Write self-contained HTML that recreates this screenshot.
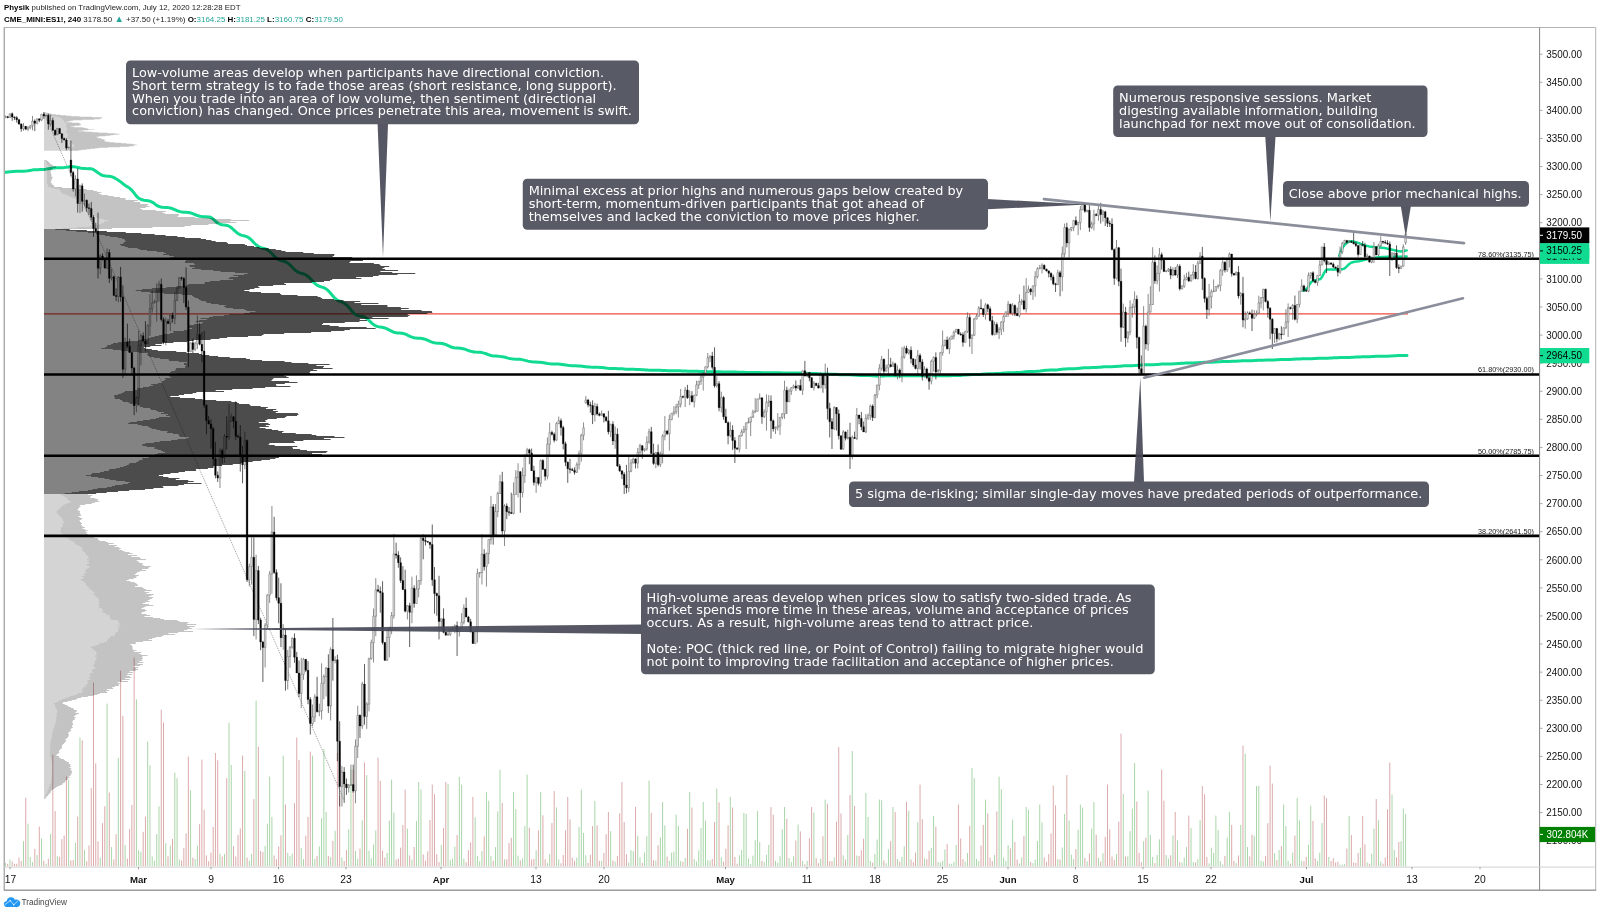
<!DOCTYPE html><html><head><meta charset="utf-8"><title>ES1! chart</title>
<style>html,body{margin:0;padding:0;background:#fff}svg{display:block;will-change:transform}.ax{font-family:"Liberation Sans",sans-serif;font-size:10.3px;fill:#111}.hd{font-family:"Liberation Sans",sans-serif;font-size:8.05px;fill:#222}.cb{font-family:"DejaVu Sans","Liberation Sans",sans-serif;font-size:12.8px;fill:#fff}.fib{font-family:"Liberation Sans",sans-serif;font-size:7.4px;fill:#222}</style></head><body>
<svg width="1600" height="914" viewBox="0 0 1600 914">
<rect width="1600" height="914" fill="#fff"/>
<text class="hd" x="4" y="10.0" textLength="236.5" lengthAdjust="spacingAndGlyphs"><tspan font-weight="bold" fill="#000">Physik</tspan> published on TradingView.com, July 12, 2020 12:28:28 EDT</text>
<text class="hd" x="4" y="21.5" textLength="339" lengthAdjust="spacingAndGlyphs"><tspan font-weight="bold" fill="#000">CME_MINI:ES1!, 240</tspan> 3178.50 <tspan fill="#26a69a" font-size="9.5" style="font-size:9.5px">▲</tspan> +37.50 (+1.19%) <tspan font-weight="bold" fill="#000">O:</tspan><tspan fill="#26a69a">3164.25</tspan> <tspan font-weight="bold" fill="#000">H:</tspan><tspan fill="#26a69a">3181.25</tspan> <tspan font-weight="bold" fill="#000">L:</tspan><tspan fill="#26a69a">3160.75</tspan> <tspan font-weight="bold" fill="#000">C:</tspan><tspan fill="#26a69a">3179.50</tspan></text>
<defs><clipPath id="pane"><rect x="4.7" y="28" width="1535" height="838.6"/></clipPath></defs>
<g clip-path="url(#pane)">
<path d="M7.69 866.6V863.94M12.2 866.6V861.59M14.46 866.6V863.8M16.72 866.6V863.75M18.98 866.6V857.63M21.24 866.6V860.92M25.75 866.6V797.6M34.79 866.6V848.74M39.3 866.6V826.6M43.82 866.6V860.64M48.34 866.6V858.74M52.85 866.6V754.6M55.11 866.6V811.01M59.63 866.6V856.69M61.89 866.6V839.13M64.15 866.6V835.65M66.4 866.6V776.6M70.92 866.6V860.38M73.18 866.6V860.12M77.7 866.6V816.55M82.21 866.6V740.29M86.73 866.6V861.27M88.99 866.6V845.53M91.25 866.6V787.93M93.5 866.6V682.6M95.76 866.6V763.39M98.02 866.6V841.34M102.54 866.6V823.17M104.8 866.6V806.19M109.31 866.6V792.57M113.83 866.6V859.45M116.09 866.6V834.29M120.6 866.6V670.6M122.86 866.6V715.71M127.38 866.6V858.68M129.64 866.6V828.94M131.89 866.6V804.93M134.15 866.6V657.6M143.19 866.6V831.81M145.44 866.6V816.68M161.25 866.6V709.6M163.51 866.6V722.49M168.03 866.6V856.33M172.54 866.6V838.98M181.58 866.6V860.37M183.84 866.6V848.2M186.09 866.6V833.3M188.35 866.6V756.6M192.87 866.6V857.61M199.64 866.6V824.18M201.9 866.6V759.6M204.16 866.6V809.77M206.42 866.6V855.39M208.68 866.6V861.26M210.94 866.6V852.65M213.19 866.6V826.99M215.45 866.6V753M217.71 866.6V760.34M222.23 866.6V856.56M226.74 866.6V778.3M233.52 866.6V846.16M235.78 866.6V856.46M238.03 866.6V834.89M240.29 866.6V828.34M242.55 866.6V755.6M247.07 866.6V857.64M253.84 866.6V799.14M258.36 866.6V746.52M260.62 866.6V850.99M262.88 866.6V851.93M274.17 866.6V855.52M276.43 866.6V859.18M278.68 866.6V846.46M280.94 866.6V835.31M285.46 866.6V804.45M294.49 866.6V803.27M296.75 866.6V737.6M299.01 866.6V759.84M305.78 866.6V835.68M308.04 866.6V816.9M310.3 866.6V751.6M317.08 866.6V856.12M328.37 866.6V856.07M332.88 866.6V840.89M337.4 866.6V753M339.66 866.6V796.27M344.18 866.6V860.97M346.43 866.6V850.11M353.21 866.6V769.79M359.98 866.6V848.48M364.5 866.6V762.6M378.05 866.6V757.6M380.31 866.6V780.75M382.57 866.6V850.56M384.82 866.6V857.6M396.12 866.6V859.5M398.37 866.6V858.55M400.63 866.6V847.67M402.89 866.6V825.11M405.15 866.6V789.6M409.67 866.6V855.39M414.18 866.6V846.98M423.22 866.6V854.5M425.47 866.6V860.55M427.73 866.6V851.4M429.99 866.6V819.96M432.25 866.6V784.6M434.51 866.6V794.18M436.77 866.6V854.33M439.02 866.6V862.07M443.54 866.6V827.82M445.8 866.6V782M457.09 866.6V834.95M466.12 866.6V862.16M468.38 866.6V850.18M470.64 866.6V842.42M472.9 866.6V797M484.19 866.6V836.32M493.22 866.6V860.88M502.26 866.6V802.94M506.77 866.6V859.32M509.03 866.6V842.95M511.29 866.6V837.79M520.32 866.6V860.42M529.36 866.6V827.75M531.61 866.6V859.55M533.87 866.6V858.87M538.39 866.6V830.35M542.91 866.6V815.35M545.16 866.6V859.27M551.94 866.6V823.05M554.2 866.6V791M560.97 866.6V863.32M563.23 866.6V855.01M565.49 866.6V830.26M567.75 866.6V797M570 866.6V819.43M572.26 866.6V857.59M574.52 866.6V860.77M588.07 866.6V862.84M590.33 866.6V854.79M592.59 866.6V826.02M597.1 866.6V825.28M599.36 866.6V860.86M603.88 866.6V852.98M606.14 866.6V834.13M608.4 866.6V812M612.91 866.6V860.38M617.43 866.6V856.17M619.69 866.6V813.29M621.95 866.6V782M624.2 866.6V822.09M626.46 866.6V854.27M635.5 866.6V807M642.27 866.6V862.79M651.3 866.6V812.95M653.56 866.6V860.09M658.08 866.6V845.28M667.11 866.6V856.58M682.92 866.6V861.81M687.44 866.6V828.77M691.95 866.6V807.54M712.28 866.6V858.91M714.54 866.6V821.95M719.05 866.6V802.44M723.57 866.6V861.64M725.83 866.6V848.65M728.09 866.6V825.29M732.6 866.6V807.45M734.86 866.6V857M737.12 866.6V863.78M761.96 866.6V860.84M770.99 866.6V807M773.25 866.6V814.75M786.8 866.6V818.81M795.84 866.6V840.53M800.35 866.6V831.39M804.87 866.6V864.33M809.38 866.6V838.3M811.64 866.6V807M816.16 866.6V858.13M818.42 866.6V863.15M822.93 866.6V836.28M827.45 866.6V803.69M829.71 866.6V861.14M831.97 866.6V861.25M836.48 866.6V821.65M838.74 866.6V747M841 866.6V813.43M845.52 866.6V859.43M850.03 866.6V794.9M854.55 866.6V805.93M859.07 866.6V856.04M861.33 866.6V850.23M863.58 866.6V838.69M872.62 866.6V862.69M883.91 866.6V860.46M890.68 866.6V841.1M895.2 866.6V812.08M899.72 866.6V861.71M906.49 866.6V802M911.01 866.6V859.42M913.27 866.6V862.09M915.52 866.6V852.56M920.04 866.6V784.6M922.3 866.6V819.23M926.82 866.6V859.23M929.07 866.6V850.64M935.85 866.6V826.59M947.14 866.6V844.03M958.43 866.6V804.6M960.69 866.6V838.43M962.95 866.6V859.24M969.72 866.6V825.81M981.02 866.6V845.58M983.27 866.6V824.91M987.79 866.6V813.48M990.05 866.6V857.73M992.31 866.6V861.11M996.82 866.6V811.51M1010.37 866.6V848.27M1014.89 866.6V841.97M1017.15 866.6V859.57M1023.92 866.6V836.19M1030.7 866.6V861.9M1044.25 866.6V857.44M1046.51 866.6V861.89M1048.76 866.6V854.05M1051.02 866.6V833.37M1053.28 866.6V785.6M1055.54 866.6V805.3M1060.06 866.6V859.65M1066.83 866.6V775M1075.86 866.6V849.19M1084.9 866.6V858.09M1089.41 866.6V853.34M1096.19 866.6V834.86M1100.71 866.6V861.57M1105.22 866.6V836.92M1107.48 866.6V784.6M1109.74 866.6V829.46M1112 866.6V856.44M1114.26 866.6V859.66M1118.77 866.6V821.56M1121.03 866.6V733.6M1125.55 866.6V856.62M1136.84 866.6V801.51M1139.1 866.6V852.81M1141.35 866.6V862.19M1145.87 866.6V837.66M1154.9 866.6V863.08M1161.68 866.6V769.6M1163.94 866.6V800.65M1170.71 866.6V855.32M1175.23 866.6V812M1179.75 866.6V861.82M1188.78 866.6V815.6M1195.55 866.6V862.37M1202.33 866.6V786M1204.59 866.6V794.24M1206.85 866.6V857.12M1224.91 866.6V855.85M1231.69 866.6V824.92M1233.95 866.6V860.9M1238.46 866.6V855.45M1242.98 866.6V745.6M1249.75 866.6V856.49M1252.01 866.6V834.68M1265.56 866.6V856.01M1267.82 866.6V823.25M1270.08 866.6V765.6M1272.34 866.6V783.57M1276.85 866.6V860.14M1281.37 866.6V846.15M1290.4 866.6V863.54M1294.92 866.6V835.55M1303.95 866.6V861.26M1306.21 866.6V856.89M1312.99 866.6V820.93M1315.24 866.6V858.47M1324.28 866.6V795.6M1326.54 866.6V798.12M1331.05 866.6V861.01M1333.31 866.6V858.08M1335.57 866.6V862.57M1337.83 866.6V861.56M1346.86 866.6V848.5M1351.38 866.6V834.94M1353.64 866.6V862.47M1355.89 866.6V862.86M1358.15 866.6V853.01M1362.67 866.6V816M1364.93 866.6V844.38M1369.44 866.6V863.65M1376.22 866.6V799M1382.99 866.6V863.59M1385.25 866.6V857.5M1387.51 866.6V809.31M1389.77 866.6V762.6M1396.54 866.6V857.29M1398.8 866.6V841.94" stroke="#dcaaaa" stroke-width="1" fill="none"/>
<path d="M5.43 866.6V863.04M9.95 866.6V859.5M23.5 866.6V841.22M28.01 866.6V823.73M30.27 866.6V857.08M32.53 866.6V862.02M37.05 866.6V854.86M41.56 866.6V838.47M46.08 866.6V863.72M50.6 866.6V833.92M57.37 866.6V856.29M68.66 866.6V779.55M75.44 866.6V842.77M79.95 866.6V737.6M84.47 866.6V849.96M100.28 866.6V857.67M107.05 866.6V703.6M111.57 866.6V847.09M118.34 866.6V757.86M125.12 866.6V844.98M136.41 866.6V699.28M138.67 866.6V850.16M140.93 866.6V851.79M147.7 866.6V741.6M149.96 866.6V765.3M152.22 866.6V856.38M154.48 866.6V860.6M156.74 866.6V834.02M158.99 866.6V806.44M165.77 866.6V843.07M170.29 866.6V845.59M174.8 866.6V772.6M177.06 866.6V778.25M179.32 866.6V859.34M190.61 866.6V790.35M195.13 866.6V859.07M197.39 866.6V845.58M219.97 866.6V853.63M224.49 866.6V853.83M229 866.6V722.6M231.26 866.6V765M244.81 866.6V770.86M249.33 866.6V860.68M251.58 866.6V853.84M256.1 866.6V700.6M265.13 866.6V846.1M267.39 866.6V823.76M269.65 866.6V776.6M271.91 866.6V816.84M283.2 866.6V755.6M287.72 866.6V852.89M289.98 866.6V856.22M292.23 866.6V853.66M301.27 866.6V848M303.53 866.6V859.16M312.56 866.6V755.62M314.82 866.6V858.89M319.33 866.6V846.37M321.59 866.6V818.2M323.85 866.6V749M326.11 866.6V811.88M330.63 866.6V857.24M335.14 866.6V830.77M341.92 866.6V857.57M348.69 866.6V829.45M350.95 866.6V769.6M355.47 866.6V850.91M357.72 866.6V858.57M362.24 866.6V820.27M366.76 866.6V775.07M369.02 866.6V850.67M371.27 866.6V858.22M373.53 866.6V844.57M375.79 866.6V830.27M387.08 866.6V853M389.34 866.6V820.64M391.6 866.6V779.6M393.86 866.6V812.48M407.41 866.6V828.6M411.92 866.6V859.59M416.44 866.6V821.03M418.7 866.6V782M420.96 866.6V789.45M441.28 866.6V844.97M448.06 866.6V783.69M450.32 866.6V860.08M452.57 866.6V858.75M454.83 866.6V846.63M459.35 866.6V777M461.61 866.6V784.57M463.86 866.6V858.69M475.16 866.6V817.32M477.41 866.6V855.94M479.67 866.6V861.25M481.93 866.6V851.03M486.45 866.6V792M488.71 866.6V800.74M490.96 866.6V855.99M495.48 866.6V847.15M497.74 866.6V811.41M500 866.6V769.6M504.51 866.6V859.39M513.55 866.6V792M515.81 866.6V809.2M518.06 866.6V855.69M522.58 866.6V858.34M524.84 866.6V825.9M527.1 866.6V774.6M536.13 866.6V850.32M540.65 866.6V792M547.42 866.6V862.84M549.68 866.6V854.17M556.46 866.6V807.32M558.71 866.6V859.49M576.78 866.6V857.6M579.04 866.6V826.92M581.3 866.6V789.6M583.55 866.6V832.92M585.81 866.6V855.43M594.85 866.6V801M601.62 866.6V860.81M610.65 866.6V831.16M615.17 866.6V861.58M628.72 866.6V862.57M630.98 866.6V850.16M633.24 866.6V851.19M637.75 866.6V835.74M640.01 866.6V857.26M644.53 866.6V852.33M646.79 866.6V836.26M649.05 866.6V780.6M655.82 866.6V860.63M660.34 866.6V837.42M662.6 866.6V802M664.85 866.6V825.35M669.37 866.6V860.88M671.63 866.6V852.61M673.89 866.6V851.67M676.15 866.6V814.6M678.4 866.6V825.68M680.66 866.6V860.95M685.18 866.6V857.87M689.69 866.6V792M694.21 866.6V858.98M696.47 866.6V861.55M698.73 866.6V850.32M700.99 866.6V827.87M703.24 866.6V802M705.5 866.6V820.65M707.76 866.6V860.08M710.02 866.6V860.58M716.79 866.6V788.6M721.31 866.6V857.28M730.34 866.6V797M739.38 866.6V855.32M741.64 866.6V849.98M743.89 866.6V813M746.15 866.6V813.84M748.41 866.6V858.48M750.67 866.6V864.1M752.93 866.6V855.67M755.19 866.6V840.17M757.44 866.6V811M759.7 866.6V842.11M764.22 866.6V862.13M766.48 866.6V854.78M768.74 866.6V844.9M775.51 866.6V861M777.77 866.6V862.49M780.03 866.6V856.03M782.29 866.6V829.27M784.54 866.6V807M789.06 866.6V858.06M791.32 866.6V862.05M793.58 866.6V856.42M798.09 866.6V824.6M802.61 866.6V861.04M807.13 866.6V860.89M813.9 866.6V812.48M820.68 866.6V858.71M825.19 866.6V799.6M834.23 866.6V857.4M843.26 866.6V855.29M847.78 866.6V834.94M852.29 866.6V751M856.81 866.6V855.54M865.84 866.6V793M868.1 866.6V816.88M870.36 866.6V860.98M874.88 866.6V853.86M877.13 866.6V839.57M879.39 866.6V799.6M881.65 866.6V800.23M886.17 866.6V863.26M888.43 866.6V849.49M892.94 866.6V807M897.46 866.6V859.02M901.98 866.6V857.04M904.23 866.6V846.21M908.75 866.6V810.61M917.78 866.6V822.2M924.56 866.6V858.33M931.33 866.6V848.03M933.59 866.6V816M938.11 866.6V862M940.37 866.6V862.47M942.62 866.6V860.7M944.88 866.6V849.52M949.4 866.6V863.6M951.66 866.6V863.87M953.92 866.6V862.03M956.17 866.6V844.9M965.21 866.6V861.6M967.47 866.6V853.05M971.98 866.6V768M974.24 866.6V778.14M976.5 866.6V859.04M978.76 866.6V861.11M985.53 866.6V799.6M994.57 866.6V855M999.08 866.6V776.6M1001.34 866.6V789.38M1003.6 866.6V857.71M1005.86 866.6V861.16M1008.12 866.6V845.1M1012.63 866.6V819.6M1019.41 866.6V863.39M1021.67 866.6V857.51M1026.18 866.6V807M1028.44 866.6V809.78M1032.96 866.6V863.17M1035.21 866.6V859.42M1037.47 866.6V840.94M1039.73 866.6V804.6M1041.99 866.6V822.35M1057.8 866.6V859.12M1062.31 866.6V847.47M1064.57 866.6V814.05M1069.09 866.6V820.51M1071.35 866.6V854.65M1073.61 866.6V859.21M1078.12 866.6V829.63M1080.38 866.6V804.6M1082.64 866.6V807.59M1087.16 866.6V861.36M1091.67 866.6V828.56M1093.93 866.6V802M1098.45 866.6V857.97M1102.96 866.6V853.16M1116.51 866.6V854M1123.29 866.6V793.87M1127.81 866.6V856.44M1130.06 866.6V831.23M1132.32 866.6V808.57M1134.58 866.6V763M1143.61 866.6V841.3M1148.13 866.6V790.6M1150.39 866.6V835.09M1152.65 866.6V856.99M1157.16 866.6V854.9M1159.42 866.6V839.37M1166.2 866.6V855.03M1168.45 866.6V858.48M1172.97 866.6V835.5M1177.49 866.6V840.46M1182 866.6V862.57M1184.26 866.6V857.62M1186.52 866.6V847.07M1191.04 866.6V828.17M1193.3 866.6V862.17M1197.81 866.6V859.28M1200.07 866.6V820.33M1209.1 866.6V863.36M1211.36 866.6V847.7M1213.62 866.6V852.87M1215.88 866.6V815.6M1218.14 866.6V830.12M1220.4 866.6V861.16M1222.65 866.6V864.46M1227.17 866.6V837.61M1229.43 866.6V812M1236.2 866.6V862.93M1240.72 866.6V825.03M1245.24 866.6V753.7M1247.5 866.6V847.05M1254.27 866.6V835.78M1256.53 866.6V786M1258.79 866.6V785.66M1261.04 866.6V860.73M1263.3 866.6V861.34M1274.59 866.6V853.07M1279.11 866.6V849.97M1283.63 866.6V804.6M1285.89 866.6V826.04M1288.14 866.6V860.83M1292.66 866.6V852.48M1297.18 866.6V798M1299.44 866.6V820.25M1301.69 866.6V860.77M1308.47 866.6V844.74M1310.73 866.6V805.6M1317.5 866.6V860.93M1319.76 866.6V852.59M1322.02 866.6V822.93M1328.79 866.6V856.99M1340.09 866.6V864.6M1342.34 866.6V864.6M1344.6 866.6V864.07M1349.12 866.6V816M1360.41 866.6V847.7M1367.18 866.6V862.41M1371.7 866.6V853.76M1373.96 866.6V828.68M1378.48 866.6V820.26M1380.73 866.6V861.48M1392.03 866.6V794.29M1394.28 866.6V849.85M1401.06 866.6V841.22M1403.32 866.6V808.6M1405.58 866.6V814.07" stroke="#a9d6a9" stroke-width="1" fill="none"/>
<line x1="44" y1="113" x2="344" y2="800" stroke="#555" stroke-width="0.6" stroke-dasharray="1 1"/>
<line x1="44" y1="313.9" x2="1408" y2="313.9" stroke="#ee4a3c" stroke-width="1.1"/>
<polyline points="4,172.27 6,172.23 8,172.05 10,171.83 12,171.62 14,171.46 16,171.35 18,171.3 20,171.28 22,171.25 24,171.17 26,171.08 28,170.8 30,170.44 32,170.11 34,169.86 36,169.71 38,169.65 40,169.61 42,169.54 44,169.39 46,169.13 48,168.8 50,168.44 52,168.14 54,167.94 56,167.84 58,167.79 60,167.76 62,167.68 64,167.52 66,167.28 68,166.97 70,166.73 72,166.65 74,166.76 76,167.11 78,167.53 80,167.94 82,168.28 84,168.5 86,168.6 88,168.63 90,168.61 92,168.98 94,169.91 96,171.22 98,172.72 100,174.14 102,175.23 104,175.85 106,176.05 108,176.14 110,176.35 112,176.83 114,177.65 116,178.74 118,179.93 120,181.37 122,182.91 124,184.61 126,185.92 128,187.12 130,188.56 132,190.46 134,192.87 136,195.65 138,197.67 140,198.91 142,199.83 144,200.31 146,200.5 148,200.69 150,201.13 152,202.01 154,203.31 156,204.87 158,206.14 160,206.72 162,207.17 164,207.38 166,207.48 168,207.61 170,207.92 172,208.49 174,209.28 176,210.17 178,211.01 180,211.65 182,212.04 184,212.2 186,212.28 188,212.43 190,212.78 192,213.38 194,214.16 196,215 198,215.75 200,216.29 202,216.59 204,216.72 206,216.8 208,217 210,217.07 212,218.14 214,219.89 216,221.69 218,223.22 220,224.25 222,224.78 224,225 226,225.22 228,225.75 230,226.79 232,228.31 234,230.11 236,231.87 238,233.53 240,234.68 242,235.37 244,235.81 246,236.34 248,237.25 250,238.68 252,240.6 254,242.73 256,244.72 258,246.3 260,247.36 262,247.99 264,248.47 266,249.12 268,250.2 270,251.81 272,253.81 274,255.93 276,257.84 278,259.28 280,260.2 282,260.75 284,261.23 286,261.97 288,263.18 290,264.9 292,266.95 294,269.04 296,270.83 298,272.13 300,272.94 302,273.44 304,274.03 306,274.97 308,276.42 310,278.35 312,280.55 314,282.68 316,284.46 318,285.72 320,286.52 322,287.09 324,287.76 326,288.83 328,290.41 330,292.58 332,295 334,297.27 336,299.13 338,300.46 340,301.38 342,302.15 344,303.11 346,304.52 348,306.44 350,308.76 352,311.17 354,313.36 356,314.84 358,315.58 360,315.95 362,316.27 364,316.85 366,317.92 368,319.49 370,321.39 372,323.3 374,324.91 376,326.02 378,326.64 380,326.96 382,327.29 384,327.74 386,328.38 388,329.31 390,330.39 392,331.43 394,332.24 396,332.75 398,332.98 400,333.09 402,333.27 404,333.68 406,334.42 408,335.4 410,336.32 412,337.14 414,337.76 416,338.11 418,338.26 420,338.35 422,338.54 424,338.95 426,339.62 428,340.48 430,341.38 432,342.16 434,342.71 436,343.01 438,343.13 440,343.23 442,343.47 444,343.96 446,344.7 448,345.59 450,346.48 452,347.22 454,347.7 456,347.94 458,348.04 460,348.2 462,348.49 464,348.94 466,349.59 468,350.33 470,351.04 472,351.59 474,351.93 476,352.09 478,352.16 480,352.29 482,352.58 484,353.09 486,353.77 488,354.52 490,355.2 492,355.7 494,355.98 496,356.1 498,356.2 500,356.37 502,356.64 504,357.05 506,357.57 508,358.11 510,358.57 512,358.89 514,359.06 516,359.13 518,359.2 520,359.34 522,359.64 524,360.09 526,360.62 528,361.15 530,361.58 532,361.86 534,362 536,362.06 538,362.18 540,362.35 542,362.56 544,362.85 546,363.19 548,363.5 550,363.75 552,363.9 554,363.96 556,363.99 558,364.05 560,364.19 562,364.42 564,364.73 566,365.07 568,365.37 570,365.59 572,365.72 574,365.77 576,365.81 578,365.9 580,366.03 582,366.22 584,366.46 586,366.7 588,366.91 590,367.06 592,367.13 594,367.16 596,367.19 598,367.26 600,367.4 602,367.6 604,367.85 606,368.09 608,368.28 610,368.41 612,368.47 614,368.49 616,368.54 618,368.64 620,368.74 622,368.87 624,369.02 626,369.16 628,369.27 630,369.33 632,369.36 634,369.37 636,369.4 638,369.46 640,369.57 642,369.7 644,369.85 646,369.98 648,370.08 650,370.13 652,370.15 654,370.17 656,370.22 658,370.29 660,370.36 662,370.45 664,370.54 666,370.61 668,370.67 670,370.69 672,370.7 674,370.72 676,370.74 678,370.79 680,370.87 682,370.96 684,371.05 686,371.12 688,371.17 690,371.19 692,371.2 694,371.21 696,371.25 698,371.3 700,371.39 702,371.48 704,371.55 706,371.6 708,371.63 710,371.64 712,371.65 714,371.66 716,371.69 718,371.74 720,371.81 722,371.88 724,371.94 726,371.99 728,372.01 730,372.02 732,372.03 734,372.05 736,372.08 738,372.14 740,372.21 742,372.28 744,372.34 746,372.38 748,372.4 750,372.4 752,372.41 754,372.43 756,372.48 758,372.54 760,372.6 762,372.65 764,372.68 766,372.7 768,372.71 770,372.72 772,372.72 774,372.74 776,372.77 778,372.81 780,372.86 782,372.9 784,372.93 786,372.95 788,372.95 790,372.96 792,372.97 794,372.99 796,373.02 798,373.06 800,373.12 802,373.23 804,373.32 806,373.37 808,373.39 810,373.4 812,373.43 814,373.5 816,373.61 818,373.74 820,373.88 822,373.99 824,374.06 826,374.1 828,374.11 830,374.13 832,374.17 834,374.25 836,374.37 838,374.5 840,374.63 842,374.73 844,374.8 846,374.82 848,374.84 850,374.86 852,374.91 854,375 856,375.13 858,375.26 860,375.38 862,375.48 864,375.53 866,375.55 868,375.57 870,375.59 872,375.66 874,375.76 876,375.89 878,375.9 880,375.9 882,375.89 884,375.88 886,375.87 888,375.86 890,375.86 892,375.85 894,375.85 896,375.85 898,375.85 900,375.84 902,375.84 904,375.83 906,375.82 908,375.81 910,375.8 912,375.8 914,375.8 916,375.8 918,375.79 920,375.79 922,375.78 924,375.78 926,375.77 928,375.76 930,375.75 932,375.75 934,375.74 936,375.74 938,375.74 940,375.74 942,375.73 944,375.72 946,375.71 948,375.7 950,375.69 952,375.62 954,375.56 956,375.55 958,375.5 960,375.41 962,375.27 964,375.09 966,374.92 968,374.77 970,374.67 972,374.62 974,374.6 976,374.57 978,374.52 980,374.41 982,374.26 984,374.08 986,373.91 988,373.77 990,373.69 992,373.64 994,373.63 996,373.6 998,373.53 1000,373.41 1002,373.25 1004,373.06 1006,372.9 1008,372.77 1010,372.7 1012,372.66 1014,372.65 1016,372.61 1018,372.53 1020,372.42 1022,372.19 1024,371.94 1026,371.72 1028,371.57 1030,371.48 1032,371.45 1034,371.42 1036,371.35 1038,371.22 1040,371.02 1042,370.77 1044,370.52 1046,370.32 1048,370.18 1050,370.11 1052,370.09 1054,370.05 1056,369.97 1058,369.82 1060,369.6 1062,369.35 1064,369.11 1066,368.92 1068,368.8 1070,368.75 1072,368.72 1074,368.68 1076,368.58 1078,368.4 1080,368.22 1082,368.03 1084,367.87 1086,367.74 1088,367.67 1090,367.64 1092,367.62 1094,367.58 1096,367.5 1098,367.36 1100,367.19 1102,367 1104,366.85 1106,366.74 1108,366.68 1110,366.65 1112,366.63 1114,366.58 1116,366.49 1118,366.34 1120,366.16 1122,365.98 1124,365.83 1126,365.73 1128,365.69 1130,365.67 1132,365.64 1134,365.58 1136,365.47 1138,365.31 1140,365.13 1142,364.96 1144,364.84 1146,364.78 1148,364.75 1150,364.73 1152,364.71 1154,364.65 1156,364.54 1158,364.4 1160,364.25 1162,364.11 1164,364.01 1166,363.95 1168,363.92 1170,363.91 1172,363.88 1174,363.8 1176,363.69 1178,363.54 1180,363.39 1182,363.26 1184,363.17 1186,363.12 1188,363.1 1190,363.08 1192,363.04 1194,362.96 1196,362.83 1198,362.68 1200,362.53 1202,362.4 1204,362.32 1206,362.28 1208,362.27 1210,362.24 1212,362.19 1214,362.09 1216,361.95 1218,361.8 1220,361.65 1222,361.53 1224,361.47 1226,361.43 1228,361.42 1230,361.38 1232,361.32 1234,361.24 1236,361.13 1238,361.01 1240,360.9 1242,360.82 1244,360.78 1246,360.76 1248,360.75 1250,360.72 1252,360.66 1254,360.57 1256,360.45 1258,360.34 1260,360.24 1262,360.17 1264,360.13 1266,360.12 1268,360.1 1270,360.07 1272,360 1274,359.9 1276,359.78 1278,359.67 1280,359.57 1282,359.51 1284,359.49 1286,359.47 1288,359.46 1290,359.41 1292,359.34 1294,359.23 1296,359.11 1298,359 1300,358.91 1302,358.86 1304,358.84 1306,358.83 1308,358.8 1310,358.75 1312,358.66 1314,358.55 1316,358.43 1318,358.32 1320,358.24 1322,358.2 1324,358.18 1326,358.17 1328,358.14 1330,358.08 1332,357.98 1334,357.86 1336,357.74 1338,357.64 1340,357.57 1342,357.53 1344,357.52 1346,357.51 1348,357.47 1350,357.4 1352,357.3 1354,357.18 1356,357.06 1358,356.96 1360,356.9 1362,356.87 1364,356.86 1366,356.84 1368,356.8 1370,356.72 1372,356.61 1374,356.49 1376,356.37 1378,356.29 1380,356.24 1382,356.22 1384,356.2 1386,356.18 1388,356.13 1390,356.04 1392,355.92 1394,355.8 1396,355.69 1398,355.62 1400,355.57 1402,355.56 1404,355.54 1406,355.49 1407,355.4" fill="none" stroke="#10db91" stroke-width="3" stroke-linejoin="round" stroke-linecap="round"/>
<polyline points="1303.3,290.8 1305.5,289.6 1307.7,287.9 1309.5,284.5 1311.2,282 1313.5,280.8 1316.6,280 1320.5,279 1322.3,276.5 1324,273.1 1325.3,270.8 1326.9,269.6 1331,269.5 1336.3,269.6 1340,269.5 1343.2,269.1 1345.3,267.9 1347.1,266.2 1349,264.2 1351,262.8 1354.5,261.8 1358.9,261.3 1364.8,259.8 1371,258.4 1378.6,257.3 1388.5,256.8 1398.3,256.8 1406.7,256.4" fill="none" stroke="#10db91" stroke-width="2.5" stroke-linejoin="round" stroke-linecap="round"/>
<polyline points="1339.2,255.9 1340.2,253 1341.2,250.4 1343,247 1345.1,244.5 1347,242.7 1349.1,241.6 1351.5,241.3 1354,241.6 1358.9,243.1 1364.8,245.5 1369,246.4 1373.7,247 1384.5,248 1393.4,250 1398,251 1401.3,251.4 1404,251 1406.7,250.4" fill="none" stroke="#10db91" stroke-width="2.5" stroke-linejoin="round" stroke-linecap="round"/>
<path d="M5.43 115.46V116.64M5.43 117.64V117.73M9.95 113.59V113.79M9.95 117.44V117.81M23.5 123.09V126.3M23.5 128.75V130.77M28.01 126.14V127.62M28.01 129.14V131.08M30.27 125.29V125.82M30.27 127.62V129.29M32.53 115.88V121.03M32.53 125.82V130.36M37.05 118.73V118.77M37.05 123.32V124.42M41.56 114.19V114.34M41.56 120.13V121.19M46.08 114.95V115.19M46.08 115.99V116.28M50.6 114.58V120.4M50.6 123.96V126.2M57.37 128.25V128.39M57.37 134.74V134.89M68.66 146.8V147.27M68.66 148.07V148.13M75.44 175.28V178.97M75.44 188.98V196.31M79.95 184.74V185.86M79.95 203.52V213.19M84.47 193.55V200.35M84.47 201.31V206.08M100.28 254.28V255.91M100.28 268.36V274.19M107.05 248.4V252.51M107.05 267.88V269.27M111.57 268.82V276.81M111.57 278.28V280.51M118.34 276.28V277.07M118.34 296.41V302.15M125.12 337.62V342.08M125.12 369.3V374.94M136.41 396.53V397.67M136.41 405.65V412.29M138.67 330.53V345.35M138.67 397.67V405.73M140.93 334.34V335.68M140.93 345.35V365.35M147.7 324V325.84M147.7 343.9V344.14M149.96 294.2V308.54M149.96 325.84V335.95M152.22 290.75V302.96M152.22 308.54V312.65M154.48 299.68V301.6M154.48 302.96V303.22M156.74 283.35V290.79M156.74 301.6V321.6M158.99 280.79V284.14M158.99 290.79V301.64M165.77 317.71V321.35M165.77 342.07V345.35M170.29 314.67V315.17M170.29 323.53V331.1M174.8 292.16V300.57M174.8 318.45V324.22M177.06 287.53V288.12M177.06 300.57V300.88M179.32 277.04V277.76M179.32 288.12V288.48M190.61 342.59V342.81M190.61 351.66V351.78M195.13 341.63V343.81M195.13 349.4V351.14M197.39 315.32V334.43M197.39 343.81V348.98M219.97 448.24V450.4M219.97 477.98V488.01M224.49 433.89V436.35M224.49 457.69V462.89M229 404.17V421.22M229 437.15V440.1M231.26 413.7V416.75M231.26 421.22V421.75M244.81 431.81V440.5M244.81 464.82V469.19M249.33 563.74V566.61M249.33 579.67V586.31M251.58 537.35V557.35M251.58 566.61V584.55M256.1 554.72V570.62M256.1 619.38V639.38M265.13 622.9V625.23M265.13 647.48V667.48M267.39 594.21V595.19M267.39 625.23V629.57M269.65 571.13V573.85M269.65 595.19V602.88M271.91 506V532.02M271.91 573.85V593.85M283.2 624.15V635.12M283.2 637.63V649.79M287.72 649.99V656.37M287.72 680.57V689.43M289.98 646.07V647.26M289.98 656.37V667.71M292.23 637.5V638.18M292.23 647.26V648.7M301.27 657.77V674.37M301.27 693.47V708.11M303.53 657.89V659.35M303.53 674.37V679.77M312.56 704.52V716.74M312.56 723.57V726.33M314.82 694.23V696.83M314.82 716.74V722.01M319.33 703.65V710.94M319.33 711.74V716.22M321.59 663.29V683.29M321.59 710.94V719.56M323.85 674.45V676.51M323.85 683.29V699.2M326.11 667.21V668.04M326.11 676.51V696.51M330.63 647.3V649.47M330.63 706.06V720.53M335.14 656.23V659.83M335.14 660.63V663.39M341.92 765.92V771.99M341.92 786.45V806.45M348.69 783.92V785.39M348.69 787.68V792.65M350.95 764.59V784.59M350.95 785.39V785.66M355.47 739.38V746.24M355.47 790.99V803.28M357.72 705.74V715.31M357.72 746.24V758M362.24 681.83V684.09M362.24 725.96V728.85M366.76 702.19V704.17M366.76 716.45V728.87M369.02 657.53V658.74M369.02 704.17V711.38M371.27 639.69V642.59M371.27 658.74V659.8M373.53 608.52V616.25M373.53 642.59V662.59M375.79 578.13V589.69M375.79 616.25V636.25M387.08 628.66V637.41M387.08 660.23V661.05M389.34 626.78V629.7M389.34 637.41V657.41M391.6 611.98V615.67M391.6 629.7V634.2M393.86 533.9V553.9M393.86 615.67V618.67M407.41 605.46V605.64M407.41 611.13V619.48M411.92 576.7V588.2M411.92 612.31V623.16M416.44 575.36V588.98M416.44 603.51V603.76M418.7 580.29V580.47M418.7 588.98V597.33M420.96 535.28V538.21M420.96 580.47V584.83M441.28 618.22V618.86M441.28 621.45V629.86M448.06 630.64V634.28M448.06 635.2V635.49M450.32 628.86V630.21M450.32 634.28V636.07M452.57 626.25V629.26M452.57 630.21V630.36M454.83 624.43V625.68M454.83 629.26V633.24M459.35 628.26V628.4M459.35 631.81V636.59M461.61 613.15V622.26M461.61 628.4V629.53M463.86 604.39V608.04M463.86 622.26V624.42M475.16 629.66V631.43M475.16 643.46V643.52M477.41 568.66V573.28M477.41 631.43V642.55M479.67 572.22V572.48M479.67 573.28V577.67M481.93 534.24V554.24M481.93 572.48V584.53M486.45 552.63V553.54M486.45 566.65V586.65M488.71 539.55V539.59M488.71 553.54V564.05M490.96 495.89V506.86M490.96 539.59V544.47M495.48 504.02V511.51M495.48 534.83V536.69M497.74 491.79V493.51M497.74 511.51V517.23M500 474.87V481.76M500 493.51V493.58M504.51 504.23V505.95M504.51 531.04V545.99M513.55 482.47V494.41M513.55 513.45V514.26M515.81 470.16V477.35M515.81 494.41V494.77M518.06 463.23V471.71M518.06 477.35V497.35M522.58 467.61V475.61M522.58 492.71V497.53M524.84 454.48V455.01M524.84 475.61V482.9M527.1 447.89V449.87M527.1 455.01V455.08M536.13 477.15V477.44M536.13 482.42V492.9M540.65 459.49V460.51M540.65 483.41V486.81M547.42 437.54V444.22M547.42 476.3V479.27M549.68 422.65V432.58M549.68 444.22V455.91M556.46 422.08V423.6M556.46 440.21V440.86M558.71 416.56V420.7M558.71 423.6V424.17M576.78 462.33V464.71M576.78 472.36V472.95M579.04 450.54V453.68M579.04 464.71V469.48M581.3 433.75V435.37M581.3 453.68V461.65M583.55 422.36V427.81M583.55 435.37V440.27M585.81 396V400.01M585.81 403.01V403.43M594.85 402.85V406.45M594.85 414.88V421.55M601.62 410.52V413.64M601.62 415.33V415.61M610.65 423.79V424.28M610.65 431.74V437.03M615.17 426.42V434.21M615.17 440.99V448.72M628.72 456.79V471.3M628.72 487.8V492.17M630.98 459.21V462.86M630.98 471.3V472.28M633.24 457.59V458.88M633.24 462.86V463.36M637.75 447.94V452.44M637.75 463.14V468.42M640.01 443.77V445.69M640.01 452.44V455.87M644.53 448.52V448.85M644.53 450.33V451.78M646.79 436.42V441.97M646.79 448.85V450.75M649.05 428.7V431.71M649.05 441.97V443.73M655.82 452.3V452.43M655.82 463.4V468.16M660.34 451.58V454.03M660.34 464.68V467.03M662.6 434.13V435.96M662.6 454.03V463.3M664.85 416.04V431.08M664.85 435.96V440.3M669.37 414.58V419.6M669.37 433.86V450.66M671.63 413.27V413.29M671.63 419.6V420.23M673.89 406.05V411.83M673.89 413.29V415.57M676.15 403.7V406.98M676.15 411.83V414.33M678.4 400.68V404.28M678.4 406.98V417.47M680.66 389.04V396.4M680.66 404.28V407.48M685.18 386.94V390.04M685.18 397.2V407.04M689.69 390.43V395.78M689.69 397.67V405.29M694.21 394.87V395.22M694.21 401.82V407.39M696.47 380.71V384.83M696.47 395.22V396.12M698.73 381.05V381.19M698.73 384.83V388.95M700.99 374.08V377.04M700.99 381.19V384.87M703.24 372.47V373.23M703.24 377.04V390.64M705.5 366.53V366.75M705.5 373.23V374.21M707.76 353.01V357.82M707.76 366.75V368.56M710.02 355.58V356.02M710.02 357.82V362.29M716.79 376.26V383.63M716.79 385.76V387.45M721.31 391.62V397.58M721.31 407.63V412.38M730.34 421.89V430.1M730.34 435.8V437.23M739.38 434.95V435.89M739.38 449.23V452.31M741.64 429.4V431.89M741.64 435.89V436.48M743.89 425.96V429.41M743.89 431.89V433.17M746.15 422.69V422.84M746.15 429.41V449.05M748.41 417.64V422.04M748.41 422.84V423.33M750.67 416.95V417.05M750.67 422.04V436.08M752.93 409.72V412.07M752.93 417.05V417.91M755.19 398.11V411.27M755.19 412.07V412.71M757.44 398.79V399.06M757.44 411.27V411.43M759.7 393.4V397.84M759.7 399.06V399.19M764.22 409.26V411.83M764.22 416.84V418M766.48 394.41V402.45M766.48 411.83V430.71M768.74 395.09V400.99M768.74 402.45V406.95M775.51 426.48V427.44M775.51 428.83V434M777.77 413.21V425.91M777.77 427.44V430.55M780.03 417.2V417.32M780.03 425.91V434.88M782.29 413.29V413.77M782.29 417.32V419.18M784.54 380.67V390.24M784.54 413.77V418.89M789.06 388.64V391.1M789.06 401.69V402.17M791.32 387.13V387.79M791.32 391.1V394.92M793.58 384.58V386M793.58 387.79V388.59M798.09 384.86V385.62M798.09 388.08V388.76M802.61 370.59V370.82M802.61 390.22V394.94M807.13 372V372.48M807.13 376.03V377.36M813.9 381.09V383.29M813.9 387.67V390.53M820.68 372.05V375.01M820.68 387.92V387.99M825.19 363.66V375.9M825.19 384.78V388.66M834.23 406.25V407.51M834.23 428.93V429.93M843.26 430.13V431.89M843.26 449.16V449.86M847.78 429.51V437.35M847.78 438.15V439.55M852.29 435.43V437.4M852.29 456.61V459.38M856.81 407.91V415.03M856.81 438.52V440.11M865.84 414.01V418.22M865.84 431.91V433.1M868.1 413.46V415.58M868.1 418.22V419.85M870.36 404.58V406.12M870.36 415.58V419.99M874.88 394.1V394.91M874.88 417.49V418.35M877.13 384.78V385.17M877.13 394.91V398.35M879.39 364.17V368.25M879.39 385.17V390.24M881.65 355.89V359.37M881.65 368.25V370.57M886.17 364.72V367.84M886.17 371.24V371.67M888.43 349V364.68M888.43 367.84V375.82M892.94 361.47V363.84M892.94 366.46V366.66M897.46 365.48V370.1M897.46 375.19V379.38M901.98 347.07V357.08M901.98 374.37V382.29M904.23 345.76V348.27M904.23 357.08V358.68M908.75 349.28V350.26M908.75 352.97V354.57M917.78 350.02V355.47M917.78 368.48V375.97M924.56 366.25V369.03M924.56 376.22V377.55M931.33 359.6V361.28M931.33 381.32V384.34M933.59 356.38V357.42M933.59 361.28V371.67M938.11 369.06V370.48M938.11 372V372.44M940.37 351.94V352.76M940.37 370.48V374.52M942.62 330.57V345.3M942.62 352.76V355.74M944.88 340.03V340.04M944.88 345.3V346.47M949.4 337.05V339.17M949.4 348.77V353.94M951.66 335.8V336.05M951.66 339.17V339.51M953.92 330.63V332.12M953.92 336.05V339.53M956.17 329.2V329.31M956.17 332.12V332.14M965.21 330.77V331.61M965.21 342.33V342.46M967.47 312.43V317.42M967.47 331.61V332.82M971.98 334.26V335.26M971.98 338.42V354M974.24 317.95V319.05M974.24 335.26V336.01M976.5 314.07V316.25M976.5 319.05V319.37M978.76 306.11V307.91M978.76 316.25V316.49M985.53 303.18V304.87M985.53 314.41V319.62M994.57 321.5V324.47M994.57 334.57V335.32M999.08 327.13V329.4M999.08 332.35V339M1001.34 321.32V321.92M1001.34 329.4V335.19M1003.6 315.04V316.36M1003.6 321.92V331.86M1005.86 311.31V312.05M1005.86 316.36V316.75M1008.12 300.96V304.3M1008.12 312.05V316.88M1012.63 303.16V305.5M1012.63 313.16V315.77M1019.41 294.47V301.98M1019.41 315.75V317.4M1021.67 298.87V300.87M1021.67 301.98V304.97M1026.18 278.17V292.4M1026.18 308.94V312.59M1028.44 285.61V289.21M1028.44 292.4V292.95M1032.96 285.57V285.83M1032.96 291.67V299.9M1035.21 271.23V276.55M1035.21 285.83V296.71M1037.47 267.18V268.66M1037.47 276.55V278.45M1039.73 264.88V267.86M1039.73 268.66V269.21M1041.99 263.31V265.21M1041.99 267.86V273.52M1057.8 269.77V272.63M1057.8 284.6V285.18M1062.31 246.5V253.92M1062.31 276.8V291.24M1064.57 223.6V227.51M1064.57 253.92V257.25M1069.09 228.36V229.53M1069.09 242.89V257.63M1071.35 227.12V227.47M1071.35 229.53V231.28M1073.61 220.1V220.55M1073.61 227.47V231.23M1078.12 221.62V222.64M1078.12 224.68V235.11M1080.38 205.79V209.68M1080.38 222.64V230.14M1082.64 202.55V204.24M1082.64 209.68V210.1M1087.16 210.08V210.16M1087.16 211.27V212.44M1091.67 221.44V223.9M1091.67 227.46V229.09M1093.93 209.73V214.62M1093.93 223.9V230.45M1098.45 204.3V209.4M1098.45 215.42V220.72M1102.96 209.88V211.85M1102.96 214.5V221.6M1116.51 239.93V247.71M1116.51 278.35V279.45M1123.29 303.61V312.06M1123.29 327.33V328.04M1127.81 331.76V331.95M1127.81 338.1V342.76M1130.06 300.22V307.65M1130.06 331.95V335.31M1132.32 303.57V306.85M1132.32 307.65V317.51M1134.58 291.35V299.24M1134.58 306.85V313.09M1143.61 306.13V326.13M1143.61 373.67V374.79M1148.13 293.84V312.16M1148.13 344.09V350.89M1150.39 286.23V304.53M1150.39 312.16V312.24M1152.65 247.24V262.24M1152.65 304.53V304.86M1157.16 265.39V273.34M1157.16 280.86V284.49M1159.42 248V254.73M1159.42 273.34V291.57M1166.2 270.24V270.8M1166.2 271.6V272.15M1168.45 267.91V269.23M1168.45 270.8V271.97M1172.97 267.29V270.04M1172.97 275.12V276.35M1177.49 264.03V266.16M1177.49 274.96V277.98M1182 285.11V286.22M1182 288.81V289.49M1184.26 274.66V279.75M1184.26 286.22V287.72M1186.52 272.86V277.27M1186.52 279.75V280.08M1191.04 274.72V274.93M1191.04 281.01V281.5M1193.3 264.08V272.08M1193.3 274.93V279.5M1197.81 260.81V263.15M1197.81 278.54V279.56M1200.07 252.03V256.13M1200.07 263.15V264.01M1209.1 283.84V296.8M1209.1 309.54V315.6M1211.36 289.39V291.83M1211.36 296.8V308.39M1213.62 279.4V291.03M1213.62 291.83V291.98M1215.88 286.03V286.53M1215.88 291.03V291.49M1218.14 284.26V285.73M1218.14 286.53V288.61M1220.4 268.99V270.62M1220.4 285.73V291.21M1222.65 257.42V262.3M1222.65 270.62V275.68M1227.17 259.04V259.07M1227.17 270.1V272.06M1229.43 252.5V254.07M1229.43 259.07V267.36M1236.2 271.62V272.36M1236.2 274.99V275.12M1240.72 292.06V293.52M1240.72 295.94V304.67M1245.24 311.45V318.93M1245.24 320.08V328.7M1247.5 311.36V312.96M1247.5 318.93V319.67M1254.27 309.95V314.35M1254.27 318.29V319.14M1256.53 310.45V313.18M1256.53 314.35V316.51M1258.79 295.63V302.9M1258.79 313.18V313.97M1261.04 297.06V297.6M1261.04 302.9V308.23M1263.3 289.07V289.15M1263.3 297.6V310.37M1274.59 328.04V328.5M1274.59 333.52V343M1279.11 332.88V333.9M1279.11 338.69V340.29M1283.63 327.52V327.74M1283.63 334.7V334.83M1285.89 309.32V321.98M1285.89 327.74V329.05M1288.14 303.39V307.73M1288.14 321.98V336.93M1292.66 303.97V305.47M1292.66 308.57V319.91M1297.18 304.11V304.44M1297.18 319.28V323.09M1299.44 291.16V291.28M1299.44 304.44V307.4M1301.69 279.29V285.88M1301.69 291.28V291.29M1308.47 272.47V275.52M1308.47 291.19V292.24M1310.73 272.39V272.82M1310.73 275.52V278.86M1317.5 275.08V275.44M1317.5 282.48V285.75M1319.76 260.32V264.88M1319.76 275.44V275.54M1322.02 246.9V246.9M1322.02 264.88V265.28M1328.79 261.32V263.1M1328.79 264.56V264.76M1340.09 246.38V251.78M1340.09 272.23V273.74M1342.34 242.07V243.16M1342.34 251.78V253.95M1344.6 239.74V240.47M1344.6 243.16V244.45M1349.12 239.97V241.51M1349.12 242.32V242.84M1360.41 244.05V244.56M1360.41 254.41V254.57M1367.18 253.63V256.03M1367.18 256.83V257.01M1371.7 256.48V259.17M1371.7 262.12V263.23M1373.96 242.03V246.79M1373.96 259.17V262.99M1378.48 243.82V245.61M1378.48 254.97V255.9M1380.73 236.22V241.34M1380.73 245.61V246.83M1392.03 252.03V253.94M1392.03 258.97V260.88M1394.28 252.94V253.14M1394.28 253.94V257.05M1401.06 265.7V266.22M1401.06 268.49V268.88M1403.32 244.32V246.94M1403.32 266.22V266.76M1405.58 233.2V234.2M1405.58 242.7V244.7" stroke="#5a5a5a" stroke-width="0.7" fill="none"/>
<path d="M7.69 115.86V118.34M12.2 112.47V120.81M14.46 116.41V120.05M16.72 116.12V122.66M18.98 118.8V124.73M21.24 123.39V131.64M25.75 126.12V129.92M34.79 119.41V131.05M39.3 118.69V122.14M43.82 111.96V118.76M48.34 113.63V129.74M52.85 117.63V130.51M55.11 129.41V135.73M59.63 128.39V133.99M61.89 133.61V142.94M64.15 137.58V140.38M66.4 138.13V150.14M70.92 140.63V176.54M73.18 170.76V191.61M77.7 168.46V212.52M82.21 183.4V211.66M86.73 199.42V211.79M88.99 203.57V215.06M91.25 201.9V220.46M93.5 215.24V236.81M95.76 222.76V232.04M98.02 212.68V278.47M102.54 253.29V260.54M104.8 257.82V268.93M109.31 249.21V282.98M113.83 275.77V295.63M116.09 288.27V301.03M120.6 266.97V301.73M122.86 285.25V377.95M127.38 323.66V348.11M129.64 338.61V353.01M131.89 352.03V373.54M134.15 366.8V415.19M143.19 332.3V341.27M145.44 321.17V351.49M161.25 278.59V321.41M163.51 317.2V344.2M168.03 319.11V324.12M172.54 312.59V322.7M181.58 276.6V280.6M183.84 277.09V303.11M186.09 267.46V309.82M188.35 300.6V367.21M192.87 338.58V353.01M199.64 322.66V345.36M201.9 332.07V362.05M204.16 330.96V408.19M206.42 404.34V434.29M208.68 415.88V424.14M210.94 419.18V448.67M213.19 426.69V467.49M215.45 442.1V478.36M217.71 471.52V481.98M222.23 448.67V463.85M226.74 416.35V449.47M233.52 416.17V428.25M235.78 401.31V439.93M238.03 434.27V437.85M240.29 425.02V471.59M242.55 445.86V483.28M247.07 439.43V581.99M253.84 537.35V636.1M258.36 565.85V624.09M260.62 617.77V650.22M262.88 640.86V682M274.17 516.84V573.96M276.43 569.32V600.55M278.68 577.66V623.31M280.94 583.31V647.09M285.46 628.62V690.65M294.49 633.44V662.75M296.75 651.89V673.01M299.01 660.51V697.2M305.78 659.2V672.16M308.04 661.18V704.2M310.3 697.04V734.57M317.08 676.83V712.51M328.37 654.34V712.95M332.88 618V680.63M337.4 654.73V761.24M339.66 721.24V806.45M344.18 767.13V802.83M346.43 778.45V794.84M353.21 764.59V792.65M359.98 714.46V737.99M364.5 664.09V724.68M378.05 584.89V592.38M380.31 586.53V612.74M382.57 581.26V644.62M384.82 642.1V660.96M396.12 542.67V558.58M398.37 551.22V567.69M400.63 557.39V582.94M402.89 566.12V590.17M405.15 569.73V612.41M409.67 602.75V647M414.18 585.29V607.67M423.22 534.3V559.28M425.47 536.35V545.6M427.73 540.99V542.65M429.99 542.01V548.79M432.25 524.55V585.9M434.51 567.05V613.61M436.77 592.52V615.76M439.02 575.76V639.42M443.54 608.37V633.16M445.8 631.35V635.28M457.09 621.41V656M466.12 597.59V617.16M468.38 615.81V622.52M470.64 618.83V632.38M472.9 630.83V644.01M484.19 549.21V570.44M493.22 503.97V544.63M502.26 471.82V534.41M506.77 503.39V519.14M509.03 506.96V515.73M511.29 492.69V514.02M520.32 471.06V512.71M529.36 448.57V464.2M531.61 448.56V470.83M533.87 465.77V485.53M538.39 477.43V485.5M542.91 459.25V470.11M545.16 468.71V480.55M551.94 430.68V435.56M554.2 432.49V442.37M560.97 418.41V435.56M563.23 425.87V449.45M565.49 441.58V466.13M567.75 461.45V482.8M570 458.77V473.44M572.26 467.8V470.59M574.52 467.45V474.58M588.07 398.75V407.2M590.33 401.76V412.71M592.59 400.39V424.09M597.1 403.64V415.49M599.36 412.43V416.37M603.88 413.52V422.45M606.14 416.05V421.61M608.4 410.88V434.39M612.91 421.24V444.95M617.43 428.35V466.97M619.69 463.98V471.97M621.95 470.72V479.05M624.2 472.19V494M626.46 464.9V493.41M635.5 458.44V468.42M642.27 444.98V458.71M651.3 426.88V453.59M653.56 443.66V464.86M658.08 444.52V466.5M667.11 429.82V435.04M682.92 395.62V398.38M687.44 384.86V398.99M691.95 391.12V402.24M712.28 351.83V369.62M714.54 347.34V387.66M719.05 381.22V411.28M723.57 395.92V419.74M725.83 408.73V422.85M728.09 421.27V444.28M732.6 425.26V449.91M734.86 437.25V463M737.12 447V449.43M761.96 397.37V423.81M770.99 395.44V438.7M773.25 419.53V431.64M786.8 386.62V413.98M795.84 380.47V390.79M800.35 379.39V390.47M804.87 360.84V376.41M809.38 371.99V381.3M811.64 377.47V387.93M816.16 382.88V385.75M818.42 382.84V388.6M822.93 374.09V392.76M827.45 367.68V419.56M829.71 402.7V437.42M831.97 418.3V448.93M836.48 407.16V430.52M838.74 409.53V439.44M841 435.54V449.72M845.52 431.47V440.4M850.03 422.79V469M854.55 431.63V438.69M859.07 414.87V424.27M861.33 411.95V430.3M863.58 421.51V432M872.62 404.39V420.97M883.91 358.53V373.65M890.68 357.8V367.42M895.2 362.74V376.36M899.72 368.47V378.24M906.49 345.82V354.21M911.01 346.46V363.42M913.27 358.41V366.89M915.52 359.12V369.38M920.04 353.44V369.38M922.3 359.21V380.5M926.82 367.69V379.27M929.07 372.78V389.7M935.85 352.34V379.45M947.14 336.55V349.46M958.43 328.94V334.62M960.69 332.25V335.67M962.95 332.46V346.69M969.72 314.4V346.91M981.02 299.29V309.28M983.27 308.36V317M987.79 303.73V312.17M990.05 306.39V321.47M992.31 315.89V335.72M996.82 322.32V334.69M1010.37 303.6V313.23M1014.89 304.4V316.12M1017.15 307.53V315.83M1023.92 285.61V310.3M1030.7 287.94V295.18M1044.25 264.5V269.44M1046.51 268.66V271.52M1048.76 270.32V277.43M1051.02 272.41V280.41M1053.28 274.67V285.42M1055.54 282.9V291.98M1060.06 270.71V296.27M1066.83 222.8V247.39M1075.86 216.43V225.6M1084.9 203.76V212.82M1089.41 203.23V231.87M1096.19 213.18V216.17M1100.71 202.79V223.52M1105.22 210.78V226.07M1107.48 217.42V227.04M1109.74 220.64V227.02M1112 218.37V250.3M1114.26 248.59V284.85M1118.77 246.93V286.23M1121.03 268.58V341.74M1125.55 306.88V346.94M1136.84 295.38V348.49M1139.1 336.65V374.82M1141.35 355.42V373.67M1145.87 324.77V349.46M1154.9 255.38V283.86M1161.68 252.46V269.57M1163.94 259.12V271.65M1170.71 266.33V279.16M1175.23 267.04V275.91M1179.75 264.34V290.54M1188.78 271.57V281.87M1195.55 265.1V279.39M1202.33 246.83V290.16M1204.59 277.31V302.54M1206.85 296.72V319M1224.91 261.25V272.48M1231.69 253.8V276.47M1233.95 272.95V275.61M1238.46 266.11V298.55M1242.98 276.87V327.3M1249.75 311.49V314.42M1252.01 309.55V331M1265.56 288.7V302.35M1267.82 299.95V317.75M1270.08 306.99V339.28M1272.34 318.07V349.07M1276.85 327.88V342.34M1281.37 326.18V339.53M1290.4 306.59V309.43M1294.92 295.52V320.4M1303.95 284.67V291.92M1306.21 288.9V291.8M1312.99 271.34V281.96M1315.24 279.63V283.53M1324.28 243.08V262.37M1326.54 259.77V273.11M1331.05 262.24V264.6M1333.31 262.53V268.15M1335.57 266.55V268.76M1337.83 265.09V276.5M1346.86 239.89V243.69M1351.38 240.48V243.03M1353.64 231.8V244.49M1355.89 241.57V246.9M1358.15 245.44V256.69M1362.67 241.04V246.33M1364.93 242.74V258.04M1369.44 255.49V262.64M1376.22 246.35V255.07M1382.99 240.96V244.04M1385.25 240.19V244.16M1387.51 240.21V245.07M1389.77 241.44V276M1396.54 245.3V268.91M1398.8 264.32V273.11" stroke="#1a1a1a" stroke-width="0.7" fill="none"/>
<path d="M4.68 116.64H6.18V117.64H4.68ZM9.2 113.79H10.7V117.44H9.2ZM22.75 126.3H24.25V128.75H22.75ZM27.26 127.62H28.76V129.14H27.26ZM29.52 125.82H31.02V127.62H29.52ZM31.78 121.03H33.28V125.82H31.78ZM36.3 118.77H37.8V123.32H36.3ZM40.81 114.34H42.31V120.13H40.81ZM45.33 115.19H46.83V115.99H45.33ZM49.85 120.4H51.35V123.96H49.85ZM56.62 128.39H58.12V134.74H56.62ZM67.91 147.27H69.41V148.07H67.91ZM74.69 178.97H76.19V188.98H74.69ZM79.2 185.86H80.7V203.52H79.2ZM83.72 200.35H85.22V201.31H83.72ZM99.53 255.91H101.03V268.36H99.53ZM106.3 252.51H107.8V267.88H106.3ZM110.82 276.81H112.32V278.28H110.82ZM117.59 277.07H119.09V296.41H117.59ZM124.37 342.08H125.87V369.3H124.37ZM135.66 397.67H137.16V405.65H135.66ZM137.92 345.35H139.42V397.67H137.92ZM140.18 335.68H141.68V345.35H140.18ZM146.95 325.84H148.45V343.9H146.95ZM149.21 308.54H150.71V325.84H149.21ZM151.47 302.96H152.97V308.54H151.47ZM153.73 301.6H155.23V302.96H153.73ZM155.99 290.79H157.49V301.6H155.99ZM158.24 284.14H159.74V290.79H158.24ZM165.02 321.35H166.52V342.07H165.02ZM169.54 315.17H171.04V323.53H169.54ZM174.05 300.57H175.55V318.45H174.05ZM176.31 288.12H177.81V300.57H176.31ZM178.57 277.76H180.07V288.12H178.57ZM189.86 342.81H191.36V351.66H189.86ZM194.38 343.81H195.88V349.4H194.38ZM196.64 334.43H198.14V343.81H196.64ZM219.22 450.4H220.72V477.98H219.22ZM223.74 436.35H225.24V457.69H223.74ZM228.25 421.22H229.75V437.15H228.25ZM230.51 416.75H232.01V421.22H230.51ZM244.06 440.5H245.56V464.82H244.06ZM248.58 566.61H250.08V579.67H248.58ZM250.83 557.35H252.33V566.61H250.83ZM255.35 570.62H256.85V619.38H255.35ZM264.38 625.23H265.88V647.48H264.38ZM266.64 595.19H268.14V625.23H266.64ZM268.9 573.85H270.4V595.19H268.9ZM271.16 532.02H272.66V573.85H271.16ZM282.45 635.12H283.95V637.63H282.45ZM286.97 656.37H288.47V680.57H286.97ZM289.23 647.26H290.73V656.37H289.23ZM291.48 638.18H292.98V647.26H291.48ZM300.52 674.37H302.02V693.47H300.52ZM302.78 659.35H304.28V674.37H302.78ZM311.81 716.74H313.31V723.57H311.81ZM314.07 696.83H315.57V716.74H314.07ZM318.58 710.94H320.08V711.74H318.58ZM320.84 683.29H322.34V710.94H320.84ZM323.1 676.51H324.6V683.29H323.1ZM325.36 668.04H326.86V676.51H325.36ZM329.88 649.47H331.38V706.06H329.88ZM334.39 659.83H335.89V660.63H334.39ZM341.17 771.99H342.67V786.45H341.17ZM347.94 785.39H349.44V787.68H347.94ZM350.2 784.59H351.7V785.39H350.2ZM354.72 746.24H356.22V790.99H354.72ZM356.97 715.31H358.47V746.24H356.97ZM361.49 684.09H362.99V725.96H361.49ZM366.01 704.17H367.51V716.45H366.01ZM368.27 658.74H369.77V704.17H368.27ZM370.52 642.59H372.02V658.74H370.52ZM372.78 616.25H374.28V642.59H372.78ZM375.04 589.69H376.54V616.25H375.04ZM386.33 637.41H387.83V660.23H386.33ZM388.59 629.7H390.09V637.41H388.59ZM390.85 615.67H392.35V629.7H390.85ZM393.11 553.9H394.61V615.67H393.11ZM406.66 605.64H408.16V611.13H406.66ZM411.17 588.2H412.67V612.31H411.17ZM415.69 588.98H417.19V603.51H415.69ZM417.95 580.47H419.45V588.98H417.95ZM420.21 538.21H421.71V580.47H420.21ZM440.53 618.86H442.03V621.45H440.53ZM447.31 634.28H448.81V635.2H447.31ZM449.57 630.21H451.07V634.28H449.57ZM451.82 629.26H453.32V630.21H451.82ZM454.08 625.68H455.58V629.26H454.08ZM458.6 628.4H460.1V631.81H458.6ZM460.86 622.26H462.36V628.4H460.86ZM463.11 608.04H464.61V622.26H463.11ZM474.41 631.43H475.91V643.46H474.41ZM476.66 573.28H478.16V631.43H476.66ZM478.92 572.48H480.42V573.28H478.92ZM481.18 554.24H482.68V572.48H481.18ZM485.7 553.54H487.2V566.65H485.7ZM487.96 539.59H489.46V553.54H487.96ZM490.21 506.86H491.71V539.59H490.21ZM494.73 511.51H496.23V534.83H494.73ZM496.99 493.51H498.49V511.51H496.99ZM499.25 481.76H500.75V493.51H499.25ZM503.76 505.95H505.26V531.04H503.76ZM512.8 494.41H514.3V513.45H512.8ZM515.06 477.35H516.56V494.41H515.06ZM517.31 471.71H518.81V477.35H517.31ZM521.83 475.61H523.33V492.71H521.83ZM524.09 455.01H525.59V475.61H524.09ZM526.35 449.87H527.85V455.01H526.35ZM535.38 477.44H536.88V482.42H535.38ZM539.9 460.51H541.4V483.41H539.9ZM546.67 444.22H548.17V476.3H546.67ZM548.93 432.58H550.43V444.22H548.93ZM555.71 423.6H557.21V440.21H555.71ZM557.96 420.7H559.46V423.6H557.96ZM576.03 464.71H577.53V472.36H576.03ZM578.29 453.68H579.79V464.71H578.29ZM580.55 435.37H582.05V453.68H580.55ZM582.8 427.81H584.3V435.37H582.8ZM585.06 400.01H586.56V403.01H585.06ZM594.1 406.45H595.6V414.88H594.1ZM600.87 413.64H602.37V415.33H600.87ZM609.9 424.28H611.4V431.74H609.9ZM614.42 434.21H615.92V440.99H614.42ZM627.97 471.3H629.47V487.8H627.97ZM630.23 462.86H631.73V471.3H630.23ZM632.49 458.88H633.99V462.86H632.49ZM637 452.44H638.5V463.14H637ZM639.26 445.69H640.76V452.44H639.26ZM643.78 448.85H645.28V450.33H643.78ZM646.04 441.97H647.54V448.85H646.04ZM648.3 431.71H649.8V441.97H648.3ZM655.07 452.43H656.57V463.4H655.07ZM659.59 454.03H661.09V464.68H659.59ZM661.85 435.96H663.35V454.03H661.85ZM664.1 431.08H665.6V435.96H664.1ZM668.62 419.6H670.12V433.86H668.62ZM670.88 413.29H672.38V419.6H670.88ZM673.14 411.83H674.64V413.29H673.14ZM675.4 406.98H676.9V411.83H675.4ZM677.65 404.28H679.15V406.98H677.65ZM679.91 396.4H681.41V404.28H679.91ZM684.43 390.04H685.93V397.2H684.43ZM688.94 395.78H690.44V397.67H688.94ZM693.46 395.22H694.96V401.82H693.46ZM695.72 384.83H697.22V395.22H695.72ZM697.98 381.19H699.48V384.83H697.98ZM700.24 377.04H701.74V381.19H700.24ZM702.49 373.23H703.99V377.04H702.49ZM704.75 366.75H706.25V373.23H704.75ZM707.01 357.82H708.51V366.75H707.01ZM709.27 356.02H710.77V357.82H709.27ZM716.04 383.63H717.54V385.76H716.04ZM720.56 397.58H722.06V407.63H720.56ZM729.59 430.1H731.09V435.8H729.59ZM738.63 435.89H740.13V449.23H738.63ZM740.89 431.89H742.39V435.89H740.89ZM743.14 429.41H744.64V431.89H743.14ZM745.4 422.84H746.9V429.41H745.4ZM747.66 422.04H749.16V422.84H747.66ZM749.92 417.05H751.42V422.04H749.92ZM752.18 412.07H753.68V417.05H752.18ZM754.44 411.27H755.94V412.07H754.44ZM756.69 399.06H758.19V411.27H756.69ZM758.95 397.84H760.45V399.06H758.95ZM763.47 411.83H764.97V416.84H763.47ZM765.73 402.45H767.23V411.83H765.73ZM767.99 400.99H769.49V402.45H767.99ZM774.76 427.44H776.26V428.83H774.76ZM777.02 425.91H778.52V427.44H777.02ZM779.28 417.32H780.78V425.91H779.28ZM781.54 413.77H783.04V417.32H781.54ZM783.79 390.24H785.29V413.77H783.79ZM788.31 391.1H789.81V401.69H788.31ZM790.57 387.79H792.07V391.1H790.57ZM792.83 386H794.33V387.79H792.83ZM797.34 385.62H798.84V388.08H797.34ZM801.86 370.82H803.36V390.22H801.86ZM806.38 372.48H807.88V376.03H806.38ZM813.15 383.29H814.65V387.67H813.15ZM819.93 375.01H821.43V387.92H819.93ZM824.44 375.9H825.94V384.78H824.44ZM833.48 407.51H834.98V428.93H833.48ZM842.51 431.89H844.01V449.16H842.51ZM847.03 437.35H848.53V438.15H847.03ZM851.54 437.4H853.04V456.61H851.54ZM856.06 415.03H857.56V438.52H856.06ZM865.09 418.22H866.59V431.91H865.09ZM867.35 415.58H868.85V418.22H867.35ZM869.61 406.12H871.11V415.58H869.61ZM874.13 394.91H875.63V417.49H874.13ZM876.38 385.17H877.88V394.91H876.38ZM878.64 368.25H880.14V385.17H878.64ZM880.9 359.37H882.4V368.25H880.9ZM885.42 367.84H886.92V371.24H885.42ZM887.68 364.68H889.18V367.84H887.68ZM892.19 363.84H893.69V366.46H892.19ZM896.71 370.1H898.21V375.19H896.71ZM901.23 357.08H902.73V374.37H901.23ZM903.48 348.27H904.98V357.08H903.48ZM908 350.26H909.5V352.97H908ZM917.03 355.47H918.53V368.48H917.03ZM923.81 369.03H925.31V376.22H923.81ZM930.58 361.28H932.08V381.32H930.58ZM932.84 357.42H934.34V361.28H932.84ZM937.36 370.48H938.86V372H937.36ZM939.62 352.76H941.12V370.48H939.62ZM941.87 345.3H943.37V352.76H941.87ZM944.13 340.04H945.63V345.3H944.13ZM948.65 339.17H950.15V348.77H948.65ZM950.91 336.05H952.41V339.17H950.91ZM953.17 332.12H954.67V336.05H953.17ZM955.42 329.31H956.92V332.12H955.42ZM964.46 331.61H965.96V342.33H964.46ZM966.72 317.42H968.22V331.61H966.72ZM971.23 335.26H972.73V338.42H971.23ZM973.49 319.05H974.99V335.26H973.49ZM975.75 316.25H977.25V319.05H975.75ZM978.01 307.91H979.51V316.25H978.01ZM984.78 304.87H986.28V314.41H984.78ZM993.82 324.47H995.32V334.57H993.82ZM998.33 329.4H999.83V332.35H998.33ZM1000.59 321.92H1002.09V329.4H1000.59ZM1002.85 316.36H1004.35V321.92H1002.85ZM1005.11 312.05H1006.61V316.36H1005.11ZM1007.37 304.3H1008.87V312.05H1007.37ZM1011.88 305.5H1013.38V313.16H1011.88ZM1018.66 301.98H1020.16V315.75H1018.66ZM1020.92 300.87H1022.42V301.98H1020.92ZM1025.43 292.4H1026.93V308.94H1025.43ZM1027.69 289.21H1029.19V292.4H1027.69ZM1032.21 285.83H1033.71V291.67H1032.21ZM1034.46 276.55H1035.96V285.83H1034.46ZM1036.72 268.66H1038.22V276.55H1036.72ZM1038.98 267.86H1040.48V268.66H1038.98ZM1041.24 265.21H1042.74V267.86H1041.24ZM1057.05 272.63H1058.55V284.6H1057.05ZM1061.56 253.92H1063.06V276.8H1061.56ZM1063.82 227.51H1065.32V253.92H1063.82ZM1068.34 229.53H1069.84V242.89H1068.34ZM1070.6 227.47H1072.1V229.53H1070.6ZM1072.86 220.55H1074.36V227.47H1072.86ZM1077.37 222.64H1078.87V224.68H1077.37ZM1079.63 209.68H1081.13V222.64H1079.63ZM1081.89 204.24H1083.39V209.68H1081.89ZM1086.41 210.16H1087.91V211.27H1086.41ZM1090.92 223.9H1092.42V227.46H1090.92ZM1093.18 214.62H1094.68V223.9H1093.18ZM1097.7 209.4H1099.2V215.42H1097.7ZM1102.21 211.85H1103.71V214.5H1102.21ZM1115.76 247.71H1117.26V278.35H1115.76ZM1122.54 312.06H1124.04V327.33H1122.54ZM1127.06 331.95H1128.56V338.1H1127.06ZM1129.31 307.65H1130.81V331.95H1129.31ZM1131.57 306.85H1133.07V307.65H1131.57ZM1133.83 299.24H1135.33V306.85H1133.83ZM1142.86 326.13H1144.36V373.67H1142.86ZM1147.38 312.16H1148.88V344.09H1147.38ZM1149.64 304.53H1151.14V312.16H1149.64ZM1151.9 262.24H1153.4V304.53H1151.9ZM1156.41 273.34H1157.91V280.86H1156.41ZM1158.67 254.73H1160.17V273.34H1158.67ZM1165.45 270.8H1166.95V271.6H1165.45ZM1167.7 269.23H1169.2V270.8H1167.7ZM1172.22 270.04H1173.72V275.12H1172.22ZM1176.74 266.16H1178.24V274.96H1176.74ZM1181.25 286.22H1182.75V288.81H1181.25ZM1183.51 279.75H1185.01V286.22H1183.51ZM1185.77 277.27H1187.27V279.75H1185.77ZM1190.29 274.93H1191.79V281.01H1190.29ZM1192.55 272.08H1194.05V274.93H1192.55ZM1197.06 263.15H1198.56V278.54H1197.06ZM1199.32 256.13H1200.82V263.15H1199.32ZM1208.35 296.8H1209.85V309.54H1208.35ZM1210.61 291.83H1212.11V296.8H1210.61ZM1212.87 291.03H1214.37V291.83H1212.87ZM1215.13 286.53H1216.63V291.03H1215.13ZM1217.39 285.73H1218.89V286.53H1217.39ZM1219.65 270.62H1221.15V285.73H1219.65ZM1221.9 262.3H1223.4V270.62H1221.9ZM1226.42 259.07H1227.92V270.1H1226.42ZM1228.68 254.07H1230.18V259.07H1228.68ZM1235.45 272.36H1236.95V274.99H1235.45ZM1239.97 293.52H1241.47V295.94H1239.97ZM1244.49 318.93H1245.99V320.08H1244.49ZM1246.75 312.96H1248.25V318.93H1246.75ZM1253.52 314.35H1255.02V318.29H1253.52ZM1255.78 313.18H1257.28V314.35H1255.78ZM1258.04 302.9H1259.54V313.18H1258.04ZM1260.29 297.6H1261.79V302.9H1260.29ZM1262.55 289.15H1264.05V297.6H1262.55ZM1273.84 328.5H1275.34V333.52H1273.84ZM1278.36 333.9H1279.86V338.69H1278.36ZM1282.88 327.74H1284.38V334.7H1282.88ZM1285.14 321.98H1286.64V327.74H1285.14ZM1287.39 307.73H1288.89V321.98H1287.39ZM1291.91 305.47H1293.41V308.57H1291.91ZM1296.43 304.44H1297.93V319.28H1296.43ZM1298.69 291.28H1300.19V304.44H1298.69ZM1300.94 285.88H1302.44V291.28H1300.94ZM1307.72 275.52H1309.22V291.19H1307.72ZM1309.98 272.82H1311.48V275.52H1309.98ZM1316.75 275.44H1318.25V282.48H1316.75ZM1319.01 264.88H1320.51V275.44H1319.01ZM1321.27 246.9H1322.77V264.88H1321.27ZM1328.04 263.1H1329.54V264.56H1328.04ZM1339.34 251.78H1340.84V272.23H1339.34ZM1341.59 243.16H1343.09V251.78H1341.59ZM1343.85 240.47H1345.35V243.16H1343.85ZM1348.37 241.51H1349.87V242.32H1348.37ZM1359.66 244.56H1361.16V254.41H1359.66ZM1366.43 256.03H1367.93V256.83H1366.43ZM1370.95 259.17H1372.45V262.12H1370.95ZM1373.21 246.79H1374.71V259.17H1373.21ZM1377.73 245.61H1379.23V254.97H1377.73ZM1379.98 241.34H1381.48V245.61H1379.98ZM1391.28 253.94H1392.78V258.97H1391.28ZM1393.53 253.14H1395.03V253.94H1393.53ZM1400.31 266.22H1401.81V268.49H1400.31ZM1402.57 246.94H1404.07V266.22H1402.57ZM1404.83 234.2H1406.33V242.7H1404.83Z" fill="#fafafa" stroke="#484848" stroke-width="0.5"/>
<path d="M6.84 116.64H8.54V117.44H6.84ZM11.35 113.79H13.05V116.92H11.35ZM13.61 116.92H15.31V117.72H13.61ZM15.87 117.72H17.57V119.81H15.87ZM18.13 119.81H19.83V124.04H18.13ZM20.39 124.04H22.09V128.75H20.39ZM24.9 126.3H26.6V129.14H24.9ZM33.94 121.03H35.64V123.32H33.94ZM38.45 118.77H40.15V120.13H38.45ZM42.97 114.34H44.67V115.99H42.97ZM47.49 115.19H49.19V123.96H47.49ZM52 120.4H53.7V130.37H52ZM54.26 130.37H55.96V134.74H54.26ZM58.78 128.39H60.48V133.66H58.78ZM61.04 133.66H62.74V138.57H61.04ZM63.3 138.57H65V140.09H63.3ZM65.55 140.09H67.25V148.07H65.55ZM70.07 160H71.77V172.5H70.07ZM72.33 172.5H74.03V188.98H72.33ZM76.85 178.97H78.55V203.52H76.85ZM81.36 185.86H83.06V201.31H81.36ZM85.88 200.35H87.58V207.81H85.88ZM88.14 207.81H89.84V208.61H88.14ZM90.4 208.61H92.1V217.32H90.4ZM92.65 217.32H94.35V228.52H92.65ZM94.91 228.52H96.61V231.21H94.91ZM97.17 231.21H98.87V268.36H97.17ZM101.69 255.91H103.39V258.68H101.69ZM103.95 258.68H105.65V267.88H103.95ZM108.46 252.51H110.16V278.28H108.46ZM112.98 276.81H114.68V295.61H112.98ZM115.24 295.61H116.94V296.41H115.24ZM119.75 277.07H121.45V296.89H119.75ZM122.01 296.89H123.71V369.3H122.01ZM126.53 342.08H128.23V346.17H126.53ZM128.79 346.17H130.49V352.41H128.79ZM131.04 352.41H132.74V368.07H131.04ZM133.3 368.07H135V405.65H133.3ZM142.34 335.68H144.04V341.17H142.34ZM144.59 341.17H146.29V343.9H144.59ZM160.4 284.14H162.1V319.39H160.4ZM162.66 319.39H164.36V342.07H162.66ZM167.18 321.35H168.88V323.53H167.18ZM171.69 315.17H173.39V318.45H171.69ZM180.73 277.76H182.43V278.56H180.73ZM182.99 278.56H184.69V287.46H182.99ZM185.24 287.46H186.94V306.92H185.24ZM187.5 306.92H189.2V351.66H187.5ZM192.02 342.81H193.72V349.4H192.02ZM198.79 334.43H200.49V344.3H198.79ZM201.05 344.3H202.75V350.96H201.05ZM203.31 350.96H205.01V405.19H203.31ZM205.57 405.19H207.27V420.45H205.57ZM207.83 420.45H209.53V424.12H207.83ZM210.09 424.12H211.79V428.67H210.09ZM212.34 428.67H214.04V459.12H212.34ZM214.6 459.12H216.3V475.25H214.6ZM216.86 475.25H218.56V477.98H216.86ZM221.38 450.4H223.08V457.69H221.38ZM225.89 436.35H227.59V437.15H225.89ZM232.67 416.75H234.37V421.31H232.67ZM234.93 421.31H236.63V436.22H234.93ZM237.18 436.22H238.88V437.02H237.18ZM239.44 437.02H241.14V455.8H239.44ZM241.7 455.8H243.4V464.82H241.7ZM246.22 440.5H247.92V579.67H246.22ZM252.99 557.35H254.69V619.38H252.99ZM257.51 570.62H259.21V620.09H257.51ZM259.77 620.09H261.47V642.01H259.77ZM262.03 642.01H263.73V647.48H262.03ZM273.32 532.02H275.02V572.51H273.32ZM275.58 572.51H277.28V597.66H275.58ZM277.83 597.66H279.53V603.31H277.83ZM280.09 603.31H281.79V637.63H280.09ZM284.61 635.12H286.31V680.57H284.61ZM293.64 638.18H295.34V657.18H293.64ZM295.9 657.18H297.6V672.95H295.9ZM298.16 672.95H299.86V693.47H298.16ZM304.93 659.35H306.63V670.28H304.93ZM307.19 670.28H308.89V699.44H307.19ZM309.45 699.44H311.15V723.57H309.45ZM316.23 696.83H317.93V711.74H316.23ZM327.52 668.04H329.22V706.06H327.52ZM332.03 649.47H333.73V660.63H332.03ZM336.55 659.83H338.25V741.24H336.55ZM338.81 741.24H340.51V786.45H338.81ZM343.32 771.99H345.03V784.01H343.32ZM345.58 784.01H347.28V787.68H345.58ZM352.36 784.59H354.06V790.99H352.36ZM359.13 715.31H360.83V725.96H359.13ZM363.65 684.09H365.35V716.45H363.65ZM377.2 589.69H378.9V591.16H377.2ZM379.46 591.16H381.16V592.74H379.46ZM381.72 592.74H383.42V642.55H381.72ZM383.97 642.55H385.67V660.23H383.97ZM395.27 553.9H396.97V555.17H395.27ZM397.52 555.17H399.22V562.64H397.52ZM399.78 562.64H401.48V580.44H399.78ZM402.04 580.44H403.74V589.53H402.04ZM404.3 589.53H406V611.13H404.3ZM408.82 605.64H410.52V612.31H408.82ZM413.33 588.2H415.03V603.51H413.33ZM422.37 538.21H424.07V540.38H422.37ZM424.62 540.38H426.32V541.38H424.62ZM426.88 541.38H428.58V542.18H426.88ZM429.14 542.18H430.84V544.55H429.14ZM431.4 544.55H433.1V579.86H431.4ZM433.66 579.86H435.36V593.61H433.66ZM435.92 593.61H437.62V595.76H435.92ZM438.17 595.76H439.87V621.45H438.17ZM442.69 618.86H444.39V632.19H442.69ZM444.95 632.19H446.65V635.2H444.95ZM456.24 625.68H457.94V631.81H456.24ZM465.27 608.04H466.97V617.08H465.27ZM467.53 617.08H469.23V621.79H467.53ZM469.79 621.79H471.49V631.71H469.79ZM472.05 631.71H473.75V643.46H472.05ZM483.34 554.24H485.04V566.65H483.34ZM492.37 506.86H494.07V534.83H492.37ZM501.41 481.76H503.11V531.04H501.41ZM505.92 505.95H507.62V511.78H505.92ZM508.18 511.78H509.88V512.58H508.18ZM510.44 512.58H512.14V513.45H510.44ZM519.47 471.71H521.17V492.71H519.47ZM528.51 449.87H530.21V453.02H528.51ZM530.76 453.02H532.46V470.68H530.76ZM533.02 470.68H534.72V482.42H533.02ZM537.54 477.44H539.24V483.41H537.54ZM542.06 460.51H543.76V469.2H542.06ZM544.31 469.2H546.01V476.3H544.31ZM551.09 432.58H552.79V434.25H551.09ZM553.35 434.25H555.05V440.21H553.35ZM560.12 420.7H561.82V427.58H560.12ZM562.38 427.58H564.08V443.66H562.38ZM564.64 443.66H566.34V462.25H564.64ZM566.9 462.25H568.6V468.79H566.9ZM569.15 468.79H570.86V469.59H569.15ZM571.41 469.59H573.11V470.39H571.41ZM573.67 470.39H575.37V472.36H573.67ZM587.22 400.01H588.92V404.78H587.22ZM589.48 404.78H591.18V405.58H589.48ZM591.74 405.58H593.44V414.88H591.74ZM596.25 406.45H597.95V413.89H596.25ZM598.51 413.89H600.21V415.33H598.51ZM603.03 413.64H604.73V417.16H603.03ZM605.29 417.16H606.99V420.82H605.29ZM607.55 420.82H609.25V431.74H607.55ZM612.06 424.28H613.76V440.99H612.06ZM616.58 434.21H618.28V465.98H616.58ZM618.84 465.98H620.54V470.73H618.84ZM621.1 470.73H622.8V474.36H621.1ZM623.35 474.36H625.05V484.9H623.35ZM625.61 484.9H627.31V487.8H625.61ZM634.65 458.88H636.35V463.14H634.65ZM641.42 445.69H643.12V450.33H641.42ZM650.45 431.71H652.15V453.45H650.45ZM652.71 453.45H654.41V463.4H652.71ZM657.23 452.43H658.93V464.68H657.23ZM666.26 431.08H667.96V433.86H666.26ZM682.07 396.4H683.77V397.2H682.07ZM686.59 390.04H688.29V397.67H686.59ZM691.1 395.78H692.8V401.82H691.1ZM711.43 356.02H713.13V367.34H711.43ZM713.69 367.34H715.39V385.76H713.69ZM718.2 383.63H719.9V407.63H718.2ZM722.72 397.58H724.42V416.74H722.72ZM724.98 416.74H726.68V422.7H724.98ZM727.24 422.7H728.94V435.8H727.24ZM731.75 430.1H733.45V440.55H731.75ZM734.01 440.55H735.71V448.33H734.01ZM736.27 448.33H737.97V449.23H736.27ZM761.11 397.84H762.81V416.84H761.11ZM770.14 400.99H771.84V420.65H770.14ZM772.4 420.65H774.1V428.83H772.4ZM785.95 390.24H787.65V401.69H785.95ZM794.99 386H796.69V388.08H794.99ZM799.5 385.62H801.2V390.22H799.5ZM804.02 370.82H805.72V376.03H804.02ZM808.53 372.48H810.23V377.71H808.53ZM810.79 377.71H812.49V387.67H810.79ZM815.31 383.29H817.01V385.62H815.31ZM817.57 385.62H819.27V387.92H817.57ZM822.08 375.01H823.78V384.78H822.08ZM826.6 375.9H828.3V408.45H826.6ZM828.86 408.45H830.56V421.74H828.86ZM831.12 421.74H832.82V428.93H831.12ZM835.63 407.51H837.33V413.84H835.63ZM837.89 413.84H839.59V435.73H837.89ZM840.15 435.73H841.85V449.16H840.15ZM844.67 431.89H846.37V438.15H844.67ZM849.18 437.35H850.88V456.61H849.18ZM853.7 437.4H855.4V438.52H853.7ZM858.22 415.03H859.92V418.48H858.22ZM860.48 418.48H862.18V426.8H860.48ZM862.73 426.8H864.43V431.91H862.73ZM871.77 406.12H873.47V417.49H871.77ZM883.06 359.37H884.76V371.24H883.06ZM889.83 364.68H891.53V366.46H889.83ZM894.35 363.84H896.05V375.19H894.35ZM898.87 370.1H900.57V374.37H898.87ZM905.64 348.27H907.34V352.97H905.64ZM910.16 350.26H911.86V358.77H910.16ZM912.42 358.77H914.12V364.94H912.42ZM914.67 364.94H916.37V368.48H914.67ZM919.19 355.47H920.89V361.91H919.19ZM921.45 361.91H923.15V376.22H921.45ZM925.97 369.03H927.67V377.81H925.97ZM928.22 377.81H929.92V381.32H928.22ZM935 357.42H936.7V372H935ZM946.29 340.04H947.99V348.77H946.29ZM957.58 329.31H959.28V334H957.58ZM959.84 334H961.54V334.81H959.84ZM962.1 334.81H963.8V342.33H962.1ZM968.87 317.42H970.57V338.42H968.87ZM980.17 307.91H981.87V308.71H980.17ZM982.42 308.71H984.12V314.41H982.42ZM986.94 304.87H988.64V308.8H986.94ZM989.2 308.8H990.9V320.58H989.2ZM991.46 320.58H993.16V334.57H991.46ZM995.97 324.47H997.67V332.35H995.97ZM1009.52 304.3H1011.22V313.16H1009.52ZM1014.04 305.5H1015.74V313.61H1014.04ZM1016.3 313.61H1018V315.75H1016.3ZM1023.07 300.87H1024.77V308.94H1023.07ZM1029.85 289.21H1031.55V291.67H1029.85ZM1043.4 265.21H1045.1V269.16H1043.4ZM1045.66 269.16H1047.36V271.01H1045.66ZM1047.91 271.01H1049.61V273.21H1047.91ZM1050.17 273.21H1051.87V277.06H1050.17ZM1052.43 277.06H1054.13V283.8H1052.43ZM1054.69 283.8H1056.39V284.6H1054.69ZM1059.21 272.63H1060.91V276.8H1059.21ZM1065.98 227.51H1067.68V242.89H1065.98ZM1075.01 220.55H1076.71V224.68H1075.01ZM1084.05 204.24H1085.75V211.27H1084.05ZM1088.56 210.16H1090.26V227.46H1088.56ZM1095.34 214.62H1097.04V215.42H1095.34ZM1099.86 209.4H1101.56V214.5H1099.86ZM1104.37 211.85H1106.07V217.73H1104.37ZM1106.63 217.73H1108.33V223.3H1106.63ZM1108.89 223.3H1110.59V224.1H1108.89ZM1111.15 224.1H1112.85V249.44H1111.15ZM1113.41 249.44H1115.11V278.35H1113.41ZM1117.92 247.71H1119.62V281.35H1117.92ZM1120.18 281.35H1121.88V327.33H1120.18ZM1124.7 312.06H1126.4V338.1H1124.7ZM1135.99 299.24H1137.69V337.45H1135.99ZM1138.25 337.45H1139.95V368.76H1138.25ZM1140.5 368.76H1142.2V373.67H1140.5ZM1145.02 326.13H1146.72V344.09H1145.02ZM1154.05 262.24H1155.75V280.86H1154.05ZM1160.83 254.73H1162.53V260.25H1160.83ZM1163.09 260.25H1164.79V271.6H1163.09ZM1169.86 269.23H1171.56V275.12H1169.86ZM1174.38 270.04H1176.08V274.96H1174.38ZM1178.9 266.16H1180.6V288.81H1178.9ZM1187.93 277.27H1189.63V281.01H1187.93ZM1194.7 272.08H1196.4V278.54H1194.7ZM1201.48 256.13H1203.18V278.42H1201.48ZM1203.74 278.42H1205.44V298.43H1203.74ZM1206 298.43H1207.7V309.54H1206ZM1224.06 262.3H1225.76V270.1H1224.06ZM1230.84 254.07H1232.54V273.46H1230.84ZM1233.1 273.46H1234.8V274.99H1233.1ZM1237.61 272.36H1239.31V295.94H1237.61ZM1242.13 293.52H1243.83V320.08H1242.13ZM1248.9 312.96H1250.6V313.91H1248.9ZM1251.16 313.91H1252.86V318.29H1251.16ZM1264.71 289.15H1266.41V301.54H1264.71ZM1266.97 301.54H1268.67V308.14H1266.97ZM1269.23 308.14H1270.93V319.28H1269.23ZM1271.49 319.28H1273.19V333.52H1271.49ZM1276 328.5H1277.7V338.69H1276ZM1280.52 333.9H1282.22V334.7H1280.52ZM1289.55 307.73H1291.25V308.57H1289.55ZM1294.07 305.47H1295.77V319.28H1294.07ZM1303.1 285.88H1304.8V290.39H1303.1ZM1305.36 290.39H1307.06V291.19H1305.36ZM1312.14 272.82H1313.84V280.67H1312.14ZM1314.39 280.67H1316.09V282.48H1314.39ZM1323.43 246.9H1325.13V260.51H1323.43ZM1325.69 260.51H1327.39V264.56H1325.69ZM1330.2 263.1H1331.9V264.28H1330.2ZM1332.46 264.28H1334.16V266.97H1332.46ZM1334.72 266.97H1336.42V268.25H1334.72ZM1336.98 268.25H1338.68V272.23H1336.98ZM1346.01 240.47H1347.71V242.32H1346.01ZM1350.53 241.51H1352.23V242.31H1350.53ZM1352.79 242.31H1354.49V243.73H1352.79ZM1355.04 243.73H1356.74V245.52H1355.04ZM1357.3 245.52H1359V254.41H1357.3ZM1361.82 244.56H1363.52V245.36H1361.82ZM1364.08 245.36H1365.78V256.83H1364.08ZM1368.59 256.03H1370.29V262.12H1368.59ZM1375.37 246.79H1377.07V254.97H1375.37ZM1382.14 241.34H1383.84V242.14H1382.14ZM1384.4 242.14H1386.1V243.08H1384.4ZM1386.66 243.08H1388.36V243.88H1386.66ZM1388.92 243.88H1390.62V258.97H1388.92ZM1395.69 253.14H1397.39V267.51H1395.69ZM1397.95 267.51H1399.65V268.49H1397.95Z" fill="#000" stroke="#000" stroke-width="0.3"/>
<path d="M44 112.2H44.75V112.7H44ZM44 112.7H45.48V113.2H44ZM44 113.2H46.17V113.7H44ZM44 113.7H46.97V114.2H44ZM44 114.2H48.16V114.7H44ZM44 114.7H49.44V115.2H44ZM44 115.2H50.64V115.7H44ZM44 115.7H51.95V116.2H44ZM44 116.2H54.41V116.7H44ZM44 116.7H57.12V117.2H44ZM44 117.2H59.81V117.7H44ZM44 117.7H60.84V118.2H44ZM44 118.2H61.32V118.7H44ZM44 118.7H61.91V119.2H44ZM44 119.2H62.73V119.7H44ZM44 119.7H62.97V120.2H44ZM44 120.2H64.05V120.7H44ZM44 120.7H64.1V121.2H44ZM44 121.2H63.75V121.7H44ZM44 121.7H63.69V122.2H44ZM44 122.2H64.7V122.7H44ZM44 122.7H66.15V123.2H44ZM44 123.2H65.64V123.7H44ZM44 123.7H66.23V124.2H44ZM44 124.2H66.33V124.7H44ZM44 124.7H66.33V125.2H44ZM44 125.2H65.82V125.7H44ZM44 125.7H65.69V126.2H44ZM44 126.2H65.76V126.7H44ZM44 126.7H66.01V127.2H44ZM44 127.2H66.3V127.7H44ZM44 127.7H66.04V128.2H44ZM44 128.2H66.69V128.7H44ZM44 128.7H66.92V129.2H44ZM44 129.2H67.76V129.7H44ZM44 129.7H67.01V130.2H44ZM44 130.2H66.7V130.7H44ZM44 130.7H65.84V131.2H44ZM44 131.2H66.37V131.7H44ZM44 131.7H65.69V132.2H44ZM44 132.2H66.27V132.7H44ZM44 132.7H66.44V133.2H44ZM44 133.2H67.35V133.7H44ZM44 133.7H67.52V134.2H44ZM44 134.2H68.16V134.7H44ZM44 134.7H67.96V135.2H44ZM44 135.2H68.12V135.7H44ZM44 135.7H67.64V136.2H44ZM44 136.2H66.91V136.7H44ZM44 136.7H66.34V137.2H44ZM44 137.2H66.28V137.7H44ZM44 137.7H67.28V138.2H44ZM44 138.2H67.58V138.7H44ZM44 138.7H68.8V139.2H44ZM44 139.2H69.38V139.7H44ZM44 139.7H70.15V140.2H44ZM44 140.2H69.92V140.7H44ZM44 140.7H70.35V141.2H44ZM44 141.2H70.25V141.7H44ZM44 141.7H70.75V142.2H44ZM44 142.2H71.31V142.7H44ZM44 142.7H71.4V143.2H44ZM44 143.2H71.73V143.7H44ZM44 143.7H72.73V144.2H44ZM44 144.2H73.74V144.7H44ZM44 144.7H73.51V145.2H44ZM44 145.2H74.43V145.7H44ZM44 145.7H74.23V146.2H44ZM44 146.2H73.93V146.7H44ZM44 146.7H73.65V147.2H44ZM44 147.2H72.49V147.7H44ZM44 147.7H71.78V148.2H44ZM44 148.2H70.93V148.7H44ZM44 148.7H69.55V149.2H44ZM44 149.2H67.77V149.7H44ZM44 149.7H65.65V150.2H44ZM44 150.2H63.94V150.7H44ZM44 150.7H62.4V150.8H44ZM44 160.1H45.61V161.1H44ZM44 161.1H45.9V162.1H44ZM44 162.1H46.15V163.1H44ZM44 163.1H46.4V164.1H44ZM44 164.1H47.08V165.1H44ZM44 165.1H47.83V166.1H44ZM44 166.1H49.03V167.1H44ZM44 167.1H49.25V168.1H44ZM44 168.1H47.93V169.1H44ZM44 169.1H47.49V170.1H44ZM44 170.1H47.08V171.1H44ZM44 171.1H47.05V172.1H44ZM44 172.1H46.95V173.1H44ZM44 173.1H46.92V174.1H44ZM44 174.1H46.95V175.1H44ZM44 175.1H46.94V176.1H44ZM44 176.1H46.98V177.1H44ZM44 177.1H46.99V178.1H44ZM44 178.1H47.07V179.1H44ZM44 179.1H46.92V180.1H44ZM44 180.1H46.91V181.1H44ZM44 181.1H46.93V182.1H44ZM44 182.1H46.92V183.1H44ZM44 183.1H47.14V184.1H44ZM44 184.1H47.3V185.1H44ZM44 185.1H47.67V186.1H44ZM44 186.1H48V187.1H44ZM44 187.1H50.41V188.1H44ZM44 188.1H54.67V189.1H44ZM44 189.1H58.83V190.1H44ZM44 190.1H59.91V191.1H44ZM44 191.1H60.71V192.1H44ZM44 192.1H61.26V193.1H44ZM44 193.1H62.77V194.1H44ZM44 194.1H65.22V195.1H44ZM44 195.1H67.83V196.1H44ZM44 196.1H69.84V197.1H44ZM44 197.1H71.54V198.1H44ZM44 198.1H75.16V199.1H44ZM44 199.1H77.97V200.1H44ZM44 200.1H78.89V201.1H44ZM44 201.1H78.58V202.1H44ZM44 202.1H80.04V203.1H44ZM44 203.1H83.09V204.1H44ZM44 204.1H81.69V205.1H44ZM44 205.1H83.88V206.1H44ZM44 206.1H83.35V207.1H44ZM44 207.1H82.03V208.1H44ZM44 208.1H83.57V209.1H44ZM44 209.1H84.35V210.1H44ZM44 210.1H84.46V211.1H44ZM44 211.1H85.72V212.1H44ZM44 212.1H87.79V213.1H44ZM44 213.1H90.96V214.1H44ZM44 214.1H90.4V215.1H44ZM44 215.1H91.81V216.1H44ZM44 216.1H95.81V217.1H44ZM44 217.1H95.28V218.1H44ZM44 218.1H98.65V219.1H44ZM44 219.1H103.87V220.1H44ZM44 220.1H108.33V221.1H44ZM44 221.1H105.06V222.1H44ZM44 222.1H103.9V223.1H44ZM44 223.1H101.28V224.1H44ZM44 224.1H98.75V225.1H44ZM44 225.1H92.27V226.1H44ZM44 226.1H88.97V227.1H44ZM44 227.1H76.73V228.1H44ZM44 228.1H62.69V229H44ZM44 494H60.71V495H44ZM44 495H62.7V496H44ZM44 496H64.19V497H44ZM44 497H65.81V498H44ZM44 498H66.98V499H44ZM44 499H67.51V500H44ZM44 500H68.91V501H44ZM44 501H70.18V502H44ZM44 502H70.03V503H44ZM44 503H67V504H44ZM44 504H64.59V505H44ZM44 505H62.73V506H44ZM44 506H61.39V507H44ZM44 507H61.01V508H44ZM44 508H59.72V509H44ZM44 509H58.48V510H44ZM44 510H57.18V511H44ZM44 511H56.73V512H44ZM44 512H56.56V513H44ZM44 513H57.05V514H44ZM44 514H57.98V515H44ZM44 515H59.48V516H44ZM44 516H59.66V517H44ZM44 517H61.16V518H44ZM44 518H61.37V519H44ZM44 519H62.36V520H44ZM44 520H62.9V521H44ZM44 521H64.47V522H44ZM44 522H63.48V523H44ZM44 523H63.06V524H44ZM44 524H62.28V525H44ZM44 525H62.62V526H44ZM44 526H62.29V527H44ZM44 527H61.25V528H44ZM44 528H60.73V529H44ZM44 529H60.77V530H44ZM44 530H60.89V531H44ZM44 531H59.83V532H44ZM44 532H60.96V533H44ZM44 533H61.96V534H44ZM44 534H63.24V535H44ZM44 535H64.01V536H44ZM44 536H65.68V537H44ZM44 537H66.43V538H44ZM44 538H68.45V539H44ZM44 539H68.85V540H44ZM44 540H70.34V541H44ZM44 541H72.9V542H44ZM44 542H74.89V543H44ZM44 543H75.09V544H44ZM44 544H76.12V545H44ZM44 545H77.8V546H44ZM44 546H80.12V547H44ZM44 547H81.34V548H44ZM44 548H82.53V549H44ZM44 549H81.53V550H44ZM44 550H83.18V551H44ZM44 551H83.09V552H44ZM44 552H85.1V553H44ZM44 553H84.98V554H44ZM44 554H86.12V555H44ZM44 555H86.82V556H44ZM44 556H88.28V557H44ZM44 557H88.05V558H44ZM44 558H88.83V559H44ZM44 559H86.75V560H44ZM44 560H88.83V561H44ZM44 561H86.68V562H44ZM44 562H89.03V563H44ZM44 563H88.82V564H44ZM44 564H86.84V565H44ZM44 565H86.82V566H44ZM44 566H89.21V567H44ZM44 567H89.35V568H44ZM44 568H87.28V569H44ZM44 569H85.72V570H44ZM44 570H85.11V571H44ZM44 571H84.99V572H44ZM44 572H86.58V573H44ZM44 573H84.1V574H44ZM44 574H83.61V575H44ZM44 575H84.39V576H44ZM44 576H81.61V577H44ZM44 577H83.46V578H44ZM44 578H82.76V579H44ZM44 579H80.93V580H44ZM44 580H81.18V581H44ZM44 581H83.6V582H44ZM44 582H84.57V583H44ZM44 583H85.69V584H44ZM44 584H86.16V585H44ZM44 585H85.77V586H44ZM44 586H88.53V587H44ZM44 587H87.99V588H44ZM44 588H90.6V589H44ZM44 589H89.33V590H44ZM44 590H92.09V591H44ZM44 591H92.66V592H44ZM44 592H94.48V593H44ZM44 593H93.49V594H44ZM44 594H94.06V595H44ZM44 595H95.17V596H44ZM44 596H95.39V597H44ZM44 597H97.95V598H44ZM44 598H97.66V599H44ZM44 599H99V600H44ZM44 600H99.24V601H44ZM44 601H98.5V602H44ZM44 602H98.44V603H44ZM44 603H99.47V604H44ZM44 604H98.64V605H44ZM44 605H98.04V606H44ZM44 606H99.57V607H44ZM44 607H98.56V608H44ZM44 608H101.64V609H44ZM44 609H101.81V610H44ZM44 610H103.13V611H44ZM44 611H102.26V612H44ZM44 612H102.67V613H44ZM44 613H106.08V614H44ZM44 614H106.25V615H44ZM44 615H109.44V616H44ZM44 616H109.83V617H44ZM44 617H109.74V618H44ZM44 618H110.35V619H44ZM44 619H110.7V620H44ZM44 620H116.99V621H44ZM44 621H118.77V622H44ZM44 622H118.39V623H44ZM44 623H119.39V624H44ZM44 624H119.58V625H44ZM44 625H117.4V626H44ZM44 626H120.25V627H44ZM44 627H117.39V628H44ZM44 628H118.76V629H44ZM44 629H118.11V630H44ZM44 630H118.08V631H44ZM44 631H118.05V632H44ZM44 632H115.38V633H44ZM44 633H115.88V634H44ZM44 634H115.02V635H44ZM44 635H114.7V636H44ZM44 636H110.58V637H44ZM44 637H110.08V638H44ZM44 638H107.89V639H44ZM44 639H108.62V640H44ZM44 640H106.73V641H44ZM44 641H106.9V642H44ZM44 642H103.38V643H44ZM44 643H99.3V644H44ZM44 644H98.3V645H44ZM44 645H95.46V646H44ZM44 646H92.13V647H44ZM44 647H90.62V648H44ZM44 648H92.35V649H44ZM44 649H93.08V650H44ZM44 650H94.18V651H44ZM44 651H96.15V652H44ZM44 652H96.38V653H44ZM44 653H96.33V654H44ZM44 654H96.44V655H44ZM44 655H95.41V656H44ZM44 656H95.08V657H44ZM44 657H96.57V658H44ZM44 658H95.79V659H44ZM44 659H96.6V660H44ZM44 660H95.43V661H44ZM44 661H94.73V662H44ZM44 662H94.86V663H44ZM44 663H94.3V664H44ZM44 664H93.65V665H44ZM44 665H93.05V666H44ZM44 666H93.41V667H44ZM44 667H94.94V668H44ZM44 668H95.34V669H44ZM44 669H91.92V670H44ZM44 670H91.85V671H44ZM44 671H92.08V672H44ZM44 672H92.88V673H44ZM44 673H90.05V674H44ZM44 674H89.57V675H44ZM44 675H89.44V676H44ZM44 676H90.63V677H44ZM44 677H89.39V678H44ZM44 678H89.05V679H44ZM44 679H90.43V680H44ZM44 680H87.32V681H44ZM44 681H87.26V682H44ZM44 682H87.65V683H44ZM44 683H87.36V684H44ZM44 684H87V685H44ZM44 685H84.97V686H44ZM44 686H85.84V687H44ZM44 687H83.14V688H44ZM44 688H82.07V689H44ZM44 689H82.87V690H44ZM44 690H81.99V691H44ZM44 691H82.21V692H44ZM44 692H82.18V693H44ZM44 693H77.83V694H44ZM44 694H76.44V695H44ZM44 695H73.47V696H44ZM44 696H69.76V697H44ZM44 697H67.54V698H44ZM44 698H64.78V699H44ZM44 699H61.86V700H44ZM44 700H59.61V701H44ZM44 701H57.99V702H44ZM44 702H55.54V703H44ZM44 703H53.9V704H44ZM44 704H54.84V705H44ZM44 705H54.75V706H44ZM44 706H54.99V707H44ZM44 707H55.45V708H44ZM44 708H55.95V709H44ZM44 709H56.87V710H44ZM44 710H57.09V711H44ZM44 711H57.27V712H44ZM44 712H56.81V713H44ZM44 713H56.41V714H44ZM44 714H56.65V715H44ZM44 715H56.62V716H44ZM44 716H56.66V717H44ZM44 717H55.92V718H44ZM44 718H55.77V719H44ZM44 719H56.24V720H44ZM44 720H56.21V721H44ZM44 721H55.82V722H44ZM44 722H55.27V723H44ZM44 723H55.31V724H44ZM44 724H54.5V725H44ZM44 725H54.69V726H44ZM44 726H54.3V727H44ZM44 727H54.06V728H44ZM44 728H53.72V729H44ZM44 729H53.06V730H44ZM44 730H53.23V731H44ZM44 731H52.76V732H44ZM44 732H52.21V733H44ZM44 733H52.21V734H44ZM44 734H52.05V735H44ZM44 735H51.64V736H44ZM44 736H51.88V737H44ZM44 737H51.49V738H44ZM44 738H51.27V739H44ZM44 739H50.87V740H44ZM44 740H50.9V741H44ZM44 741H50.61V742H44ZM44 742H50.5V743H44ZM44 743H50.23V744H44ZM44 744H50.3V745H44ZM44 745H49.82V746H44ZM44 746H49.88V747H44ZM44 747H50.14V748H44ZM44 748H50.18V749H44ZM44 749H50.09V750H44ZM44 750H50.2V751H44ZM44 751H49.79V752H44ZM44 752H50.04V753H44ZM44 753H49.87V754H44ZM44 754H50.18V755H44ZM44 755H50.01V756H44ZM44 756H50.19V757H44ZM44 757H50.71V758H44ZM44 758H50.64V759H44ZM44 759H51.08V760H44ZM44 760H51.51V761H44ZM44 761H51.33V762H44ZM44 762H51.69V763H44ZM44 763H51.8V764H44ZM44 764H52.05V765H44ZM44 765H52V766H44ZM44 766H51.95V767H44ZM44 767H51.96V768H44ZM44 768H51.86V769H44ZM44 769H51.77V770H44ZM44 770H51.91V771H44ZM44 771H52.1V772H44ZM44 772H52V773H44ZM44 773H51.82V774H44ZM44 774H51.71V775H44ZM44 775H51.7V776H44ZM44 776H51.54V777H44ZM44 777H51.46V778H44ZM44 778H51.39V779H44ZM44 779H51.47V780H44ZM44 780H51.23V781H44ZM44 781H50.96V782H44ZM44 782H50.84V783H44ZM44 783H50.43V784H44ZM44 784H49.8V785H44ZM44 785H49.56V786H44ZM44 786H49.4V787H44ZM44 787H48.89V788H44ZM44 788H48.51V789H44ZM44 789H47.95V790H44ZM44 790H47.76V791H44ZM44 791H47.22V792H44ZM44 792H46.79V793H44ZM44 793H46.44V794H44ZM44 794H45.89V795H44ZM44 795H45.52V796H44ZM44 796H45.11V797H44ZM44 797H44.66V798H44ZM44 798H44.5V799H44Z" fill="#000" fill-opacity="0.17"/>
<path d="M44.75 112.2H45.94V112.7H44.75ZM45.48 112.7H47.87V113.2H45.48ZM46.17 113.2H49.97V113.7H46.17ZM46.97 113.7H51.97V114.2H46.97ZM48.16 114.2H55.99V114.7H48.16ZM49.44 114.7H60.78V115.2H49.44ZM50.64 115.2H66.22V115.7H50.64ZM51.95 115.7H71.15V116.2H51.95ZM54.41 116.2H79.5V116.7H54.41ZM57.12 116.7H92.36V117.2H57.12ZM59.81 117.2H102.09V117.7H59.81ZM60.84 117.7H102.49V118.2H60.84ZM61.32 118.2H100.5V118.7H61.32ZM61.91 118.7H100.35V119.2H61.91ZM62.73 119.2H94.14V119.7H62.73ZM62.97 119.7H82.22V120.2H62.97ZM64.05 120.2H73.21V120.7H64.05ZM64.1 120.7H70.43V121.2H64.1ZM63.75 121.2H68.65V121.7H63.75ZM63.69 121.7H65.94V122.2H63.69ZM64.7 122.2H72.16V122.7H64.7ZM66.15 122.7H79.51V123.2H66.15ZM65.64 123.2H79.56V123.7H65.64ZM66.23 123.7H80.86V124.2H66.23ZM66.33 124.2H80.26V124.7H66.33ZM66.33 124.7H81.21V125.2H66.33ZM65.82 125.2H79.09V125.7H65.82ZM65.69 125.7H74.67V126.2H65.69ZM65.76 126.2H70.73V126.7H65.76ZM66.01 126.7H73.96V127.2H66.01ZM66.3 127.2H82.43V127.7H66.3ZM66.04 127.7H85.09V128.2H66.04ZM66.69 128.2H87.28V128.7H66.69ZM66.92 128.7H88.52V129.2H66.92ZM67.76 129.2H94.27V129.7H67.76ZM67.01 129.7H88.45V130.2H67.01ZM66.7 130.2H82.47V130.7H66.7ZM65.84 130.7H78.36V131.2H65.84ZM66.37 131.2H84.68V131.7H66.37ZM65.69 131.7H92.43V132.2H65.69ZM66.27 132.2H98.28V132.7H66.27ZM66.44 132.7H107.34V133.2H66.44ZM67.35 133.2H115.44V133.7H67.35ZM67.52 133.7H119.79V134.2H67.52ZM68.16 134.2H118.13V134.7H68.16ZM67.96 134.7H112.85V135.2H67.96ZM68.12 135.2H109.67V135.7H68.12ZM67.64 135.7H105.52V136.2H67.64ZM66.91 136.2H99.21V136.7H66.91ZM66.34 136.7H96.24V137.2H66.34ZM66.28 137.2H98.12V137.7H66.28ZM67.28 137.7H97.63V138.2H67.28ZM67.58 138.2H101.29V138.7H67.58ZM68.8 138.7H101.55V139.2H68.8ZM69.38 139.2H104.36V139.7H69.38ZM70.15 139.7H105.14V140.2H70.15ZM69.92 140.2H104.08V140.7H69.92ZM70.35 140.7H105.88V141.2H70.35ZM70.25 141.2H104.81V141.7H70.25ZM70.75 141.7H109.3V142.2H70.75ZM71.31 142.2H114.4V142.7H71.31ZM71.4 142.7H120.92V143.2H71.4ZM71.73 143.2H126.52V143.7H71.73ZM72.73 143.7H132.17V144.2H72.73ZM73.74 144.2H135.3V144.7H73.74ZM73.51 144.7H137.37V145.2H73.51ZM74.43 145.2H133.69V145.7H74.43ZM74.23 145.7H133.97V146.2H74.23ZM73.93 146.2H129.08V146.7H73.93ZM73.65 146.7H120.16V147.2H73.65ZM72.49 147.2H108.24V147.7H72.49ZM71.78 147.7H99.36V148.2H71.78ZM70.93 148.2H95.01V148.7H70.93ZM69.55 148.7H90.54V149.2H69.55ZM67.77 149.2H86.21V149.7H67.77ZM65.65 149.7H81.22V150.2H65.65ZM63.94 150.2H78.71V150.7H63.94ZM62.4 150.7H75.88V150.8H62.4ZM45.61 160.1H46.95V161.1H45.61ZM45.9 161.1H48.27V162.1H45.9ZM46.15 162.1H49.32V163.1H46.15ZM46.4 163.1H50V164.1H46.4ZM47.08 164.1H51.52V165.1H47.08ZM47.83 165.1H52.99V166.1H47.83ZM49.03 166.1H56.02V167.1H49.03ZM49.25 167.1H55.81V168.1H49.25ZM47.93 168.1H53.02V169.1H47.93ZM47.49 169.1H52.07V170.1H47.49ZM47.08 170.1H51.19V171.1H47.08ZM47.05 171.1H50.43V172.1H47.05ZM46.95 172.1H50.82V173.1H46.95ZM46.92 173.1H50.99V174.1H46.92ZM46.95 174.1H51.32V175.1H46.95ZM46.94 175.1H51.37V176.1H46.94ZM46.98 176.1H51.62V177.1H46.98ZM46.99 177.1H52.54V178.1H46.99ZM47.07 178.1H52.12V179.1H47.07ZM46.92 179.1H51.76V180.1H46.92ZM46.91 180.1H51.3V181.1H46.91ZM46.93 181.1H51.15V182.1H46.93ZM46.92 182.1H50.82V183.1H46.92ZM47.14 183.1H51.9V184.1H47.14ZM47.3 184.1H52.39V185.1H47.3ZM47.67 185.1H53.92V186.1H47.67ZM48 186.1H54.23V187.1H48ZM50.41 187.1H61.97V188.1H50.41ZM54.67 188.1H74.93V189.1H54.67ZM58.83 189.1H86.92V190.1H58.83ZM59.91 190.1H93.39V191.1H59.91ZM60.71 191.1H97.03V192.1H60.71ZM61.26 192.1H101.33V193.1H61.26ZM62.77 193.1H98.97V194.1H62.77ZM65.22 194.1H101.43V195.1H65.22ZM67.83 195.1H108.21V196.1H67.83ZM69.84 196.1H113.65V197.1H69.84ZM71.54 197.1H120.02V198.1H71.54ZM75.16 198.1H125.54V199.1H75.16ZM77.97 199.1H125.59V200.1H77.97ZM78.89 200.1H137.84V201.1H78.89ZM78.58 201.1H134.45V202.1H78.58ZM80.04 202.1H140.14V203.1H80.04ZM83.09 203.1H140.27V204.1H83.09ZM81.69 204.1H148.26V205.1H81.69ZM83.88 205.1H146.91V206.1H83.88ZM83.35 206.1H149.26V207.1H83.35ZM82.03 207.1H145.77V208.1H82.03ZM83.57 208.1H140.42V209.1H83.57ZM84.35 209.1H142.22V210.1H84.35ZM84.46 210.1H155.97V211.1H84.46ZM85.72 211.1H165.71V212.1H85.72ZM87.79 212.1H162.42V213.1H87.79ZM90.96 213.1H164.87V214.1H90.96ZM90.4 214.1H179.04V215.1H90.4ZM91.81 215.1H178.66V216.1H91.81ZM95.81 216.1H177.56V217.1H95.81ZM95.28 217.1H195.16V218.1H95.28ZM98.65 218.1H214.77V219.1H98.65ZM103.87 219.1H231.09V220.1H103.87ZM108.33 220.1H249.25V221.1H108.33ZM105.06 221.1H229.86V222.1H105.06ZM103.9 222.1H236.57V223.1H103.9ZM101.28 223.1H218.43V224.1H101.28ZM98.75 224.1H208.5V225.1H98.75ZM92.27 225.1H191.07V226.1H92.27ZM88.97 226.1H184.51V227.1H88.97ZM76.73 227.1H152.51V228.1H76.73ZM62.69 228.1H111.99V229H62.69ZM60.71 494H87.93V495H60.71ZM62.7 495H92.22V496H62.7ZM64.19 496H90.57V497H64.19ZM65.81 497H90.34V498H65.81ZM66.98 498H95.21V499H66.98ZM67.51 499H98.21V500H67.51ZM68.91 500H97.51V501H68.91ZM70.18 501H99.19V502H70.18ZM70.03 502H94.84V503H70.03ZM67 503H91.9V504H67ZM64.59 504H85.27V505H64.59ZM62.73 505H79.88V506H62.73ZM61.39 506H80.46V507H61.39ZM61.01 507H79.24V508H61.01ZM59.72 508H78.8V509H59.72ZM58.48 509H77.48V510H58.48ZM57.18 510H78.59V511H57.18ZM56.73 511H80.06V512H56.73ZM56.56 512H79.76V513H56.56ZM57.05 513H80.18V514H57.05ZM57.98 514H80.58V515H57.98ZM59.48 515H80.99V516H59.48ZM59.66 516H78.43V517H59.66ZM61.16 517H80.2V518H61.16ZM61.37 518H82.26V519H61.37ZM62.36 519H81.36V520H62.36ZM62.9 520H79.61V521H62.9ZM64.47 521H80.01V522H64.47ZM63.48 522H80.94V523H63.48ZM63.06 523H81.98V524H63.06ZM62.28 524H80.87V525H62.28ZM62.62 525H81.81V526H62.62ZM62.29 526H82.44V527H62.29ZM61.25 527H84.88V528H61.25ZM60.73 528H82.49V529H60.73ZM60.77 529H84.87V530H60.77ZM60.89 530H87.6V531H60.89ZM59.83 531H85.58V532H59.83ZM60.96 532H87.1V533H60.96ZM61.96 533H86.39V534H61.96ZM63.24 534H88.08V535H63.24ZM64.01 535H90.53V536H64.01ZM65.68 536H97.27V537H65.68ZM66.43 537H94.35V538H66.43ZM68.45 538H97.74V539H68.45ZM68.85 539H98.13V540H68.85ZM70.34 540H99.52V541H70.34ZM72.9 541H105.62V542H72.9ZM74.89 542H108.08V543H74.89ZM75.09 543H113.64V544H75.09ZM76.12 544H108.83V545H76.12ZM77.8 545H116.87V546H77.8ZM80.12 546H114.74V547H80.12ZM81.34 547H119.01V548H81.34ZM82.53 548H120.79V549H82.53ZM81.53 549H119.29V550H81.53ZM83.18 550H122.26V551H83.18ZM83.09 551H124.44V552H83.09ZM85.1 552H129.53V553H85.1ZM84.98 553H132.51V554H84.98ZM86.12 554H127.86V555H86.12ZM86.82 555H136.92V556H86.82ZM88.28 556H131.39V557H88.28ZM88.05 557H139.68V558H88.05ZM88.83 558H140.75V559H88.83ZM86.75 559H146.1V560H86.75ZM88.83 560H136.77V561H88.83ZM86.68 561H138.16V562H86.68ZM89.03 562H139.34V563H89.03ZM88.82 563H142.77V564H88.82ZM86.84 564H142.28V565H86.84ZM86.82 565H143.57V566H86.82ZM89.21 566H150.69V567H89.21ZM89.35 567H148.82V568H89.35ZM87.28 568H148.33V569H87.28ZM85.72 569H142.05V570H85.72ZM85.11 570H146.13V571H85.11ZM84.99 571H139.66V572H84.99ZM86.58 572H137.26V573H86.58ZM84.1 573H136.01V574H84.1ZM83.61 574H134.67V575H83.61ZM84.39 575H138.78V576H84.39ZM81.61 576H136.42V577H81.61ZM83.46 577H136.38V578H83.46ZM82.76 578H133.77V579H82.76ZM80.93 579H128.79V580H80.93ZM81.18 580H126.69V581H81.18ZM83.6 581H130.4V582H83.6ZM84.57 582H134.54V583H84.57ZM85.69 583H136.36V584H85.69ZM86.16 584H137.39V585H86.16ZM85.77 585H138V586H85.77ZM88.53 586H135V587H88.53ZM87.99 587H142.26V588H87.99ZM90.6 588H143.93V589H90.6ZM89.33 589H146.18V590H89.33ZM92.09 590H151.49V591H92.09ZM92.66 591H144.7V592H92.66ZM94.48 592H149.1V593H94.48ZM93.49 593H146.41V594H93.49ZM94.06 594H153.86V595H94.06ZM95.17 595H151.45V596H95.17ZM95.39 596H148.84V597H95.39ZM97.95 597H152.94V598H97.95ZM97.66 598H151.83V599H97.66ZM99 599H149.78V600H99ZM99.24 600H147.75V601H99.24ZM98.5 601H149.57V602H98.5ZM98.44 602H145.23V603H98.44ZM99.47 603H142.8V604H99.47ZM98.64 604H149.1V605H98.64ZM98.04 605H153.3V606H98.04ZM99.57 606H145.82V607H99.57ZM98.56 607H143.55V608H98.56ZM101.64 608H141.53V609H101.64ZM101.81 609H144.94V610H101.81ZM103.13 610H146.69V611H103.13ZM102.26 611H144.87V612H102.26ZM102.67 612H141.89V613H102.67ZM106.08 613H141.51V614H106.08ZM106.25 614H146.53V615H106.25ZM109.44 615H150.24V616H109.44ZM109.83 616H144.55V617H109.83ZM109.74 617H152.99V618H109.74ZM110.35 618H160.27V619H110.35ZM110.7 619H164.03V620H110.7ZM116.99 620H177.24V621H116.99ZM118.77 621H179.58V622H118.77ZM118.39 622H188.41V623H118.39ZM119.39 623H187.11V624H119.39ZM119.58 624H196.18V625H119.58ZM117.4 625H187.11V626H117.4ZM120.25 626H194.85V627H120.25ZM117.39 627H189.55V628H117.39ZM118.76 628H192.32V629H118.76ZM118.11 629H187.29V630H118.11ZM118.08 630H184.11V631H118.08ZM118.05 631H193.03V632H118.05ZM115.38 632H178.18V633H115.38ZM115.88 633H168.36V634H115.88ZM115.02 634H175.12V635H115.02ZM114.7 635H163.4V636H114.7ZM110.58 636H161.64V637H110.58ZM110.08 637H155.5V638H110.08ZM107.89 638H152.32V639H107.89ZM108.62 639H148.73V640H108.62ZM106.73 640H152.17V641H106.73ZM106.9 641H142.99V642H106.9ZM103.38 642H135.72V643H103.38ZM99.3 643H135.89V644H99.3ZM98.3 644H130.35V645H98.3ZM95.46 645H131.98V646H95.46ZM92.13 646H132.3V647H92.13ZM90.62 647H132.58V648H90.62ZM92.35 648H132.67V649H92.35ZM93.08 649H132.86V650H93.08ZM94.18 650H136.5V651H94.18ZM96.15 651H133.96V652H96.15ZM96.38 652H141.17V653H96.38ZM96.33 653H139.06V654H96.33ZM96.44 654H141.35V655H96.44ZM95.41 655H147.55V656H95.41ZM95.08 656H142.42V657H95.08ZM96.57 657H142.1V658H96.57ZM95.79 658H142.9V659H95.79ZM96.6 659H141.72V660H96.6ZM95.43 660H142.18V661H95.43ZM94.73 661H139.4V662H94.73ZM94.86 662H143.39V663H94.86ZM94.3 663H137.7V664H94.3ZM93.65 664H142.9V665H93.65ZM93.05 665H140.32V666H93.05ZM93.41 666H133.34V667H93.41ZM94.94 667H138.18V668H94.94ZM95.34 668H135.98V669H95.34ZM91.92 669H138.15V670H91.92ZM91.85 670H135.81V671H91.85ZM92.08 671H129.67V672H92.08ZM92.88 672H132.82V673H92.88ZM90.05 673H127.69V674H90.05ZM89.57 674H131.92V675H89.57ZM89.44 675H126.82V676H89.44ZM90.63 676H129.86V677H90.63ZM89.39 677H131.27V678H89.39ZM89.05 678H124.95V679H89.05ZM90.43 679H129.48V680H90.43ZM87.32 680H121.93V681H87.32ZM87.26 681H128.05V682H87.26ZM87.65 682H117.8V683H87.65ZM87.36 683H119.94V684H87.36ZM87 684H118.5V685H87ZM84.97 685H119.1V686H84.97ZM85.84 686H115V687H85.84ZM83.14 687H112.29V688H83.14ZM82.07 688H113.24V689H82.07ZM82.87 689H106.88V690H82.87ZM81.99 690H109.18V691H81.99ZM82.21 691H106.09V692H82.21ZM82.18 692H107.35V693H82.18ZM77.83 693H99.83V694H77.83ZM76.44 694H97.27V695H76.44ZM73.47 695H93.46V696H73.47ZM69.76 696H87.81V697H69.76ZM67.54 697H81.1V698H67.54ZM64.78 698H77.51V699H64.78ZM61.86 699H75.78V700H61.86ZM59.61 700H71.63V701H59.61ZM57.99 701H67.58V702H57.99ZM55.54 702H63.06V703H55.54ZM53.9 703H62.56V704H53.9ZM54.84 704H64.7V705H54.84ZM54.75 705H67.16V706H54.75ZM54.99 706H68.55V707H54.99ZM55.45 707H70.8V708H55.45ZM55.95 708H73.38V709H55.95ZM56.87 709H73.99V710H56.87ZM57.09 710H76.81V711H57.09ZM57.27 711H76.54V712H57.27ZM56.81 712H75.38V713H56.81ZM56.41 713H78.96V714H56.41ZM56.65 714H76.52V715H56.65ZM56.62 715H75.15V716H56.62ZM56.66 716H73.86V717H56.66ZM55.92 717H75.81V718H55.92ZM55.77 718H74.4V719H55.77ZM56.24 719H74.79V720H56.24ZM56.21 720H72.97V721H56.21ZM55.82 721H72.44V722H55.82ZM55.27 722H72.65V723H55.27ZM55.31 723H72.65V724H55.31ZM54.5 724H73.4V725H54.5ZM54.69 725H72.27V726H54.69ZM54.3 726H71.94V727H54.3ZM54.06 727H72.89V728H54.06ZM53.72 728H71.32V729H53.72ZM53.06 729H70.43V730H53.06ZM53.23 730H71.15V731H53.23ZM52.76 731H69.91V732H52.76ZM52.21 732H68.52V733H52.21ZM52.21 733H68.32V734H52.21ZM52.05 734H68.9V735H52.05ZM51.64 735H68.65V736H51.64ZM51.88 736H68.33V737H51.88ZM51.49 737H67.77V738H51.49ZM51.27 738H66.59V739H51.27ZM50.87 739H65.37V740H50.87ZM50.9 740H66.14V741H50.9ZM50.61 741H65.62V742H50.61ZM50.5 742H64.93V743H50.5ZM50.23 743H63.95V744H50.23ZM50.3 744H62.81V745H50.3ZM49.82 745H61.87V746H49.82ZM49.88 746H62.09V747H49.88ZM50.14 747H61.73V748H50.14ZM50.18 748H61.6V749H50.18ZM50.09 749H60.15V750H50.09ZM50.2 750H59.36V751H50.2ZM49.79 751H58.9V752H49.79ZM50.04 752H59.27V753H50.04ZM49.87 753H58.2V754H49.87ZM50.18 754H56.9V755H50.18ZM50.01 755H56.36V756H50.01ZM50.19 756H59.14V757H50.19ZM50.71 757H59.14V758H50.71ZM50.64 758H60.82V759H50.64ZM51.08 759H63.83V760H51.08ZM51.51 760H64.96V761H51.51ZM51.33 761H66.86V762H51.33ZM51.69 762H68.96V763H51.69ZM51.8 763H68.83V764H51.8ZM52.05 764H70.49V765H52.05ZM52 765H70.13V766H52ZM51.95 766H70.83V767H51.95ZM51.96 767H69.67V768H51.96ZM51.86 768H71.24V769H51.86ZM51.77 769H70.58V770H51.77ZM51.91 770H71.45V771H51.91ZM52.1 771H71.79V772H52.1ZM52 772H72.18V773H52ZM51.82 773H71.22V774H51.82ZM51.71 774H71.4V775H51.71ZM51.7 775H70.33V776H51.7ZM51.54 776H68.78V777H51.54ZM51.46 777H69.76V778H51.46ZM51.39 778H68V779H51.39ZM51.47 779H67.69V780H51.47ZM51.23 780H65.75V781H51.23ZM50.96 781H65.13V782H50.96ZM50.84 782H64.55V783H50.84ZM50.43 783H62.75V784H50.43ZM49.8 784H62.37V785H49.8ZM49.56 785H59.92V786H49.56ZM49.4 786H57.64V787H49.4ZM48.89 787H55.87V788H48.89ZM48.51 788H54.44V789H48.51ZM47.95 789H52.87V790H47.95ZM47.76 790H51.57V791H47.76ZM47.22 791H50.85V792H47.22ZM46.79 792H50.42V793H46.79ZM46.44 793H49.59V794H46.44ZM45.89 794H48.62V795H45.89ZM45.52 795H47.89V796H45.52ZM45.11 796H46.89V797H45.11ZM44.66 797H46.13V798H44.66ZM44.5 798H45.41V799H44.5Z" fill="#000" fill-opacity="0.235"/>
<path d="M44 229H55.13V230H44ZM44 230H66.07V231H44ZM44 231H76.11V232H44ZM44 232H87.84V233H44ZM44 233H95.93V234H44ZM44 234H99.37V235H44ZM44 235H104.43V236H44ZM44 236H109.44V237H44ZM44 237H117.34V238H44ZM44 238H121.51V239H44ZM44 239H124.21V240H44ZM44 240H125.05V241H44ZM44 241H125.21V242H44ZM44 242H123.46V243H44ZM44 243H123.07V244H44ZM44 244H119.7V245H44ZM44 245H121.12V246H44ZM44 246H124.57V247H44ZM44 247H127.46V248H44ZM44 248H137.21V249H44ZM44 249H139.68V250H44ZM44 250H146.71V251H44ZM44 251H156.39V252H44ZM44 252H163.39V253H44ZM44 253H165.58V254H44ZM44 254H162.72V255H44ZM44 255H168.75V256H44ZM44 256H173.29V257H44ZM44 257H169.87V258H44ZM44 258H176.32V259H44ZM44 259H179.33V260H44ZM44 260H185.85V261H44ZM44 261H184.71V262H44ZM44 262H184.58V263H44ZM44 263H193.6V264H44ZM44 264H194.46V265H44ZM44 265H189.19V266H44ZM44 266H189.93V267H44ZM44 267H194.37V268H44ZM44 268H191.86V269H44ZM44 269H200.51V270H44ZM44 270H213.11V271H44ZM44 271H220.24V272H44ZM44 272H234.7V273H44ZM44 273H247.22V274H44ZM44 274H243.97V275H44ZM44 275H233.24V276H44ZM44 276H237.78V277H44ZM44 277H229.42V278H44ZM44 278H228.26V279H44ZM44 279H233.09V280H44ZM44 280H219.98V281H44ZM44 281H209.58V282H44ZM44 282H204.4V283H44ZM44 283H204.24V284H44ZM44 284H188.09V285H44ZM44 285H186.13V286H44ZM44 286H176.23V287H44ZM44 287H166.2V288H44ZM44 288H151.47V289H44ZM44 289H141.68V290H44ZM44 290H135.34V291H44ZM44 291H141V292H44ZM44 292H149.88V293H44ZM44 293H164.05V294H44ZM44 294H181.42V295H44ZM44 295H191.81V296H44ZM44 296H193.09V297H44ZM44 297H194.49V298H44ZM44 298H197.9V299H44ZM44 299H199.12V300H44ZM44 300H200.46V301H44ZM44 301H205.22V302H44ZM44 302H206.37V303H44ZM44 303H210.98V304H44ZM44 304H218.32V305H44ZM44 305H225.22V306H44ZM44 306H223.56V307H44ZM44 307H225.52V308H44ZM44 308H232.94V309H44ZM44 309H244.18V310H44ZM44 310H246.35V311H44ZM44 311H255.19V312H44ZM44 312H249.33V313H44ZM44 313H243.93V314H44ZM44 314H228.84V315H44ZM44 315H223.54V316H44ZM44 316H212.29V317H44ZM44 317H208.92V318H44ZM44 318H200.26V319H44ZM44 319H206.45V320H44ZM44 320H198.68V321H44ZM44 321H195.3V322H44ZM44 322H202.55V323H44ZM44 323H201.22V324H44ZM44 324H193.78V325H44ZM44 325H189.06V326H44ZM44 326H187.8V327H44ZM44 327H187.57V328H44ZM44 328H191.67V329H44ZM44 329H187.82V330H44ZM44 330H183.67V331H44ZM44 331H172.71V332H44ZM44 332H173.31V333H44ZM44 333H169.83V334H44ZM44 334H163.69V335H44ZM44 335H158.39V336H44ZM44 336H154.3V337H44ZM44 337H150.3V338H44ZM44 338H147.54V339H44ZM44 339H140.83V340H44ZM44 340H138.06V341H44ZM44 341H126.26V342H44ZM44 342H118.16V343H44ZM44 343H112.8V344H44ZM44 344H110.62V345H44ZM44 345H107.11V346H44ZM44 346H106.82V347H44ZM44 347H105.03V348H44ZM44 348H101.09V349H44ZM44 349H112.53V350H44ZM44 350H120.52V351H44ZM44 351H127.48V352H44ZM44 352H138.75V353H44ZM44 353H147.7V354H44ZM44 354H147.04V355H44ZM44 355H147.4V356H44ZM44 356H149.17V357H44ZM44 357H153.67V358H44ZM44 358H159.55V359H44ZM44 359H168.28V360H44ZM44 360H168.9V361H44ZM44 361H178.4V362H44ZM44 362H186.67V363H44ZM44 363H183.67V364H44ZM44 364H183.86V365H44ZM44 365H185.75V366H44ZM44 366H184.89V367H44ZM44 367H184.7V368H44ZM44 368H175.49V369H44ZM44 369H175.38V370H44ZM44 370H174.81V371H44ZM44 371H171.22V372H44ZM44 372H169.95V373H44ZM44 373H176.7V374H44ZM44 374H170.22V375H44ZM44 375H168.38V376H44ZM44 376H169.18V377H44ZM44 377H170.45V378H44ZM44 378H164.38V379H44ZM44 379H165.4V380H44ZM44 380H163.64V381H44ZM44 381H161.9V382H44ZM44 382H161.95V383H44ZM44 383H157.39V384H44ZM44 384H150.97V385H44ZM44 385H152.98V386H44ZM44 386H149.05V387H44ZM44 387H142.51V388H44ZM44 388H137.06V389H44ZM44 389H137.22V390H44ZM44 390H133.06V391H44ZM44 391H124.49V392H44ZM44 392H123.19V393H44ZM44 393H120.85V394H44ZM44 394H117.89V395H44ZM44 395H114.11V396H44ZM44 396H113.83V397H44ZM44 397H114.57V398H44ZM44 398H114.31V399H44ZM44 399H119.8V400H44ZM44 400H121.72V401H44ZM44 401H122.88V402H44ZM44 402H128.28V403H44ZM44 403H129.5V404H44ZM44 404H136.62V405H44ZM44 405H139.38V406H44ZM44 406H139.32V407H44ZM44 407H142.57V408H44ZM44 408H149.8V409H44ZM44 409H150.69V410H44ZM44 410H155.74V411H44ZM44 411H157.73V412H44ZM44 412H163.99V413H44ZM44 413H160.62V414H44ZM44 414H167.64V415H44ZM44 415H165.77V416H44ZM44 416H169.77V417H44ZM44 417H158.99V418H44ZM44 418H155.95V419H44ZM44 419H150.05V420H44ZM44 420H142.68V421H44ZM44 421H136.49V422H44ZM44 422H129.38V423H44ZM44 423H128.08V424H44ZM44 424H137.41V425H44ZM44 425H141.28V426H44ZM44 426H147.55V427H44ZM44 427H149.36V428H44ZM44 428H151.32V429H44ZM44 429H156.23V430H44ZM44 430H160.18V431H44ZM44 431H167.29V432H44ZM44 432H166.45V433H44ZM44 433H172.51V434H44ZM44 434H178.32V435H44ZM44 435H178.57V436H44ZM44 436H179.47V437H44ZM44 437H188.25V438H44ZM44 438H186.38V439H44ZM44 439H177.23V440H44ZM44 440H170.69V441H44ZM44 441H159.38V442H44ZM44 442H154V443H44ZM44 443H145.1V444H44ZM44 444H142.13V445H44ZM44 445H142.19V446H44ZM44 446H146.32V447H44ZM44 447H154.3V448H44ZM44 448H154.18V449H44ZM44 449H157.37V450H44ZM44 450H160.64V451H44ZM44 451H162.7V452H44ZM44 452H165.09V453H44ZM44 453H157.47V454H44ZM44 454H154.72V455H44ZM44 455H149.07V456H44ZM44 456H150.97V457H44ZM44 457H148.34V458H44ZM44 458H141.87V459H44ZM44 459H142.31V460H44ZM44 460H139.15V461H44ZM44 461H137.64V462H44ZM44 462H135.57V463H44ZM44 463H129.18V464H44ZM44 464H128.31V465H44ZM44 465H126.3V466H44ZM44 466H123.42V467H44ZM44 467H119.9V468H44ZM44 468H116.04V469H44ZM44 469H109.12V470H44ZM44 470H108.49V471H44ZM44 471H103.41V472H44ZM44 472H99.69V473H44ZM44 473H91.93V474H44ZM44 474H90.74V475H44ZM44 475H85.8V476H44ZM44 476H90.62V477H44ZM44 477H98.08V478H44ZM44 478H104.25V479H44ZM44 479H109.31V480H44ZM44 480H115.94V481H44ZM44 481H125.16V482H44ZM44 482H129.34V483H44ZM44 483H127.58V484H44ZM44 484H122.31V485H44ZM44 485H114.97V486H44ZM44 486H111.46V487H44ZM44 487H106.58V488H44ZM44 488H97.25V489H44ZM44 489H92.23V490H44ZM44 490H87.42V491H44ZM44 491H78.46V492H44ZM44 492H71.47V493H44ZM44 493H64.34V494H44Z" fill="#000" fill-opacity="0.485"/>
<path d="M55.13 229H69.69V230H55.13ZM66.07 230H86.87V231H66.07ZM76.11 231H106.82V232H76.11ZM87.84 232H125.74V233H87.84ZM95.93 233H141.39V234H95.93ZM99.37 234H154.61V235H99.37ZM104.43 235H165.58V236H104.43ZM109.44 236H177.39V237H109.44ZM117.34 237H184.81V238H117.34ZM121.51 238H200.82V239H121.51ZM124.21 239H206.06V240H124.21ZM125.05 240H211.41V241H125.05ZM125.21 241H215.61V242H125.21ZM123.46 242H226.73V243H123.46ZM123.07 243H227.97V244H123.07ZM119.7 244H244.76V245H119.7ZM121.12 245H246.98V246H121.12ZM124.57 246H254.03V247H124.57ZM127.46 247H259.55V248H127.46ZM137.21 248H268.76V249H137.21ZM139.68 249H275.76V250H139.68ZM146.71 250H281.37V251H146.71ZM156.39 251H285.53V252H156.39ZM163.39 252H303.26V253H163.39ZM165.58 253H313.8V254H165.58ZM162.72 254H334.5V255H162.72ZM168.75 255H334.07V256H168.75ZM173.29 256H332.74V257H173.29ZM169.87 257H352.25V258H169.87ZM176.32 258H343.53V259H176.32ZM179.33 259H355.76V260H179.33ZM185.85 260H362.97V261H185.85ZM184.71 261H350.37V262H184.71ZM184.58 262H349.52V263H184.58ZM193.6 263H373.84V264H193.6ZM194.46 264H379.55V265H194.46ZM189.19 265H380.68V266H189.19ZM189.93 266H389.15V267H189.93ZM194.37 267H384.43V268H194.37ZM191.86 268H382.62V269H191.86ZM200.51 269H385.22V270H200.51ZM213.11 270H398.05V271H213.11ZM220.24 271H380.44V272H220.24ZM234.7 272H392.25V273H234.7ZM247.22 273H415.23V274H247.22ZM243.97 274H397.51V275H243.97ZM233.24 275H378.6V276H233.24ZM237.78 276H373.02V277H237.78ZM229.42 277H356.12V278H229.42ZM228.26 278H361.39V279H228.26ZM233.09 279H332.2V280H233.09ZM219.98 280H330.11V281H219.98ZM209.58 281H324.01V282H209.58ZM204.4 282H312.08V283H204.4ZM204.24 283H284.38V284H204.24ZM188.09 284H285.96V285H188.09ZM186.13 285H273.11V286H186.13ZM176.23 286H258.17V287H176.23ZM166.2 287H259.44V288H166.2ZM151.47 288H254.41V289H151.47ZM141.68 289H249.75V290H141.68ZM135.34 290H244.33V291H135.34ZM141 291H249.36V292H141ZM149.88 292H261.03V293H149.88ZM164.05 293H280.02V294H164.05ZM181.42 294H281.28V295H181.42ZM191.81 295H297.56V296H191.81ZM193.09 296H317.68V297H193.09ZM194.49 297H320.56V298H194.49ZM197.9 298H322.17V299H197.9ZM199.12 299H334.18V300H199.12ZM200.46 300H343.5V301H200.46ZM205.22 301H360.28V302H205.22ZM206.37 302H354.54V303H206.37ZM210.98 303H378.43V304H210.98ZM218.32 304H361.22V305H218.32ZM225.22 305H387.35V306H225.22ZM223.56 306H387.49V307H223.56ZM225.52 307H400.74V308H225.52ZM232.94 308H408.74V309H232.94ZM244.18 309H401.11V310H244.18ZM246.35 310H421.62V311H246.35ZM255.19 311H431.86V312H255.19ZM249.33 312H432.2V313H249.33ZM243.93 313H427.24V314H243.93ZM228.84 314H407.7V315H228.84ZM223.54 315H409.49V316H223.54ZM212.29 316H407.88V317H212.29ZM208.92 317H372.46V318H208.92ZM200.26 318H388.52V319H200.26ZM206.45 319H359.86V320H206.45ZM198.68 320H366.91V321H198.68ZM195.3 321H359.4V322H195.3ZM202.55 322H344.76V323H202.55ZM201.22 323H323.13V324H201.22ZM193.78 324H322.04V325H193.78ZM189.06 325H329.78V326H189.06ZM187.8 326H338.71V327H187.8ZM187.57 327H366.56V328H187.57ZM191.67 328H375.6V329H191.67ZM187.82 329H349.95V330H187.82ZM183.67 330H344.45V331H183.67ZM172.71 331H331.08V332H172.71ZM173.31 332H311.13V333H173.31ZM169.83 333H284.12V334H169.83ZM163.69 334H263.54V335H163.69ZM158.39 335H261.81V336H158.39ZM154.3 336H248.04V337H154.3ZM150.3 337H227.14V338H150.3ZM147.54 338H219.49V339H147.54ZM140.83 339H210.59V340H140.83ZM138.06 340H193.67V341H138.06ZM126.26 341H187.31V342H126.26ZM118.16 342H173.41V343H118.16ZM112.8 343H162.3V344H112.8ZM110.62 344H155.44V345H110.62ZM107.11 345H161.47V346H107.11ZM106.82 346H150.31V347H106.82ZM105.03 347H143.84V348H105.03ZM101.09 348H145.05V349H101.09ZM112.53 349H151.84V350H112.53ZM120.52 350H157.75V351H120.52ZM127.48 351H176.28V352H127.48ZM138.75 352H186.4V353H138.75ZM147.7 353H198.91V354H147.7ZM147.04 354H201.93V355H147.04ZM147.4 355H209.26V356H147.4ZM149.17 356H218.16V357H149.17ZM153.67 357H229.75V358H153.67ZM159.55 358H246.15V359H159.55ZM168.28 359H250.05V360H168.28ZM168.9 360H262.13V361H168.9ZM178.4 361H284.57V362H178.4ZM186.67 362H291.53V363H186.67ZM183.67 363H308.35V364H183.67ZM183.86 364H329.54V365H183.86ZM185.75 365H316.36V366H185.75ZM184.89 366H323.95V367H184.89ZM184.7 367H323.09V368H184.7ZM175.49 368H332.57V369H175.49ZM175.38 369H313.35V370H175.38ZM174.81 370H316.91V371H174.81ZM171.22 371H310.31V372H171.22ZM169.95 372H309.63V373H169.95ZM176.7 373H310.29V374H176.7ZM170.22 374H309.93V375H170.22ZM168.38 375H284.24V376H168.38ZM169.18 376H286.39V377H169.18ZM170.45 377H288.61V378H170.45ZM164.38 378H273.43V379H164.38ZM165.4 379H272.49V380H165.4ZM163.64 380H271.55V381H163.64ZM161.9 381H289.15V382H161.9ZM161.95 382H297.44V383H161.95ZM157.39 383H284.87V384H157.39ZM150.97 384H275.94V385H150.97ZM152.98 385H276.38V386H152.98ZM149.05 386H290.35V387H149.05ZM142.51 387H265.19V388H142.51ZM137.06 388H252.6V389H137.06ZM137.22 389H232.29V390H137.22ZM133.06 390H215.67V391H133.06ZM124.49 391H224.02V392H124.49ZM123.19 392H196.36V393H123.19ZM120.85 393H192.62V394H120.85ZM117.89 394H184.09V395H117.89ZM114.11 395H178.75V396H114.11ZM113.83 396H170.36V397H113.83ZM114.57 397H179.94V398H114.57ZM114.31 398H194.97V399H114.31ZM119.8 399H202.57V400H119.8ZM121.72 400H216.21V401H121.72ZM122.88 401H231.32V402H122.88ZM128.28 402H237.18V403H128.28ZM129.5 403H239V404H129.5ZM136.62 404H249.52V405H136.62ZM139.38 405H250.47V406H139.38ZM139.32 406H260.67V407H139.32ZM142.57 407H267.77V408H142.57ZM149.8 408H265.89V409H149.8ZM150.69 409H276.28V410H150.69ZM155.74 410H273.06V411H155.74ZM157.73 411H277.86V412H157.73ZM163.99 412H275.75V413H163.99ZM160.62 413H297.76V414H160.62ZM167.64 414H298.46V415H167.64ZM165.77 415H297.13V416H165.77ZM169.77 416H286.48V417H169.77ZM158.99 417H284.91V418H158.99ZM155.95 418H276.85V419H155.95ZM150.05 419H267.35V420H150.05ZM142.68 420H265.32V421H142.68ZM136.49 421H265.79V422H136.49ZM129.38 422H258.86V423H129.38ZM128.08 423H268.44V424H128.08ZM137.41 424H270.05V425H137.41ZM141.28 425H265.84V426H141.28ZM147.55 426H268.82V427H147.55ZM149.36 427H259.64V428H149.36ZM151.32 428H265.47V429H151.32ZM156.23 429H271.85V430H156.23ZM160.18 430H278.21V431H160.18ZM167.29 431H283.46V432H167.29ZM166.45 432H282.05V433H166.45ZM172.51 433H295.71V434H172.51ZM178.32 434H311.67V435H178.32ZM178.57 435H316.26V436H178.57ZM179.47 436H334.43V437H179.47ZM188.25 437H344.47V438H188.25ZM186.38 438H323.89V439H186.38ZM177.23 439H330.63V440H177.23ZM170.69 440H303.38V441H170.69ZM159.38 441H293.8V442H159.38ZM154 442H294.75V443H154ZM145.1 443H269.52V444H145.1ZM142.13 444H268.74V445H142.13ZM142.19 445H274.75V446H142.19ZM146.32 446H297.28V447H146.32ZM154.3 447H292.53V448H154.3ZM154.18 448H293.02V449H154.18ZM157.37 449H300.15V450H157.37ZM160.64 450H306.95V451H160.64ZM162.7 451H327.39V452H162.7ZM165.09 452H326.23V453H165.09ZM157.47 453H312.02V454H157.47ZM154.72 454H322.09V455H154.72ZM149.07 455H326.45V456H149.07ZM150.97 456H299.93V457H150.97ZM148.34 457H278.96V458H148.34ZM141.87 458H275.38V459H141.87ZM142.31 459H269.98V460H142.31ZM139.15 460H261.42V461H139.15ZM137.64 461H252.69V462H137.64ZM135.57 462H241.99V463H135.57ZM129.18 463H240.79V464H129.18ZM128.31 464H232.8V465H128.31ZM126.3 465H222.08V466H126.3ZM123.42 466H213.01V467H123.42ZM119.9 467H213.29V468H119.9ZM116.04 468H207.9V469H116.04ZM109.12 469H195.88V470H109.12ZM108.49 470H196.16V471H108.49ZM103.41 471H184.97V472H103.41ZM99.69 472H178.59V473H99.69ZM91.93 473H170.44V474H91.93ZM90.74 474H163.39V475H90.74ZM85.8 475H158.89V476H85.8ZM90.62 476H163.11V477H90.62ZM98.08 477H168.46V478H98.08ZM104.25 478H179.39V479H104.25ZM109.31 479H175.82V480H109.31ZM115.94 480H188.24V481H115.94ZM125.16 481H193.6V482H125.16ZM129.34 482H187.8V483H129.34ZM127.58 483H201.41V484H127.58ZM122.31 484H184.04V485H122.31ZM114.97 485H178.31V486H114.97ZM111.46 486H162.75V487H111.46ZM106.58 487H163.44V488H106.58ZM97.25 488H153.46V489H97.25ZM92.23 489H144.96V490H92.23ZM87.42 490H129.15V491H87.42ZM78.46 491H117.99V492H78.46ZM71.47 492H106.66V493H71.47ZM64.34 493H96.19V494H64.34Z" fill="#000" fill-opacity="0.70"/>
<line x1="44" y1="258.8" x2="1540" y2="258.8" stroke="#000" stroke-width="2.6"/>
<line x1="44" y1="374.5" x2="1540" y2="374.5" stroke="#000" stroke-width="2.6"/>
<line x1="44" y1="455.8" x2="1540" y2="455.8" stroke="#000" stroke-width="2.6"/>
<line x1="44" y1="535.9" x2="1540" y2="535.9" stroke="#000" stroke-width="2.6"/>
<text class="fib" x="1478" y="256.7" textLength="56" lengthAdjust="spacingAndGlyphs">78.60%(3135.75)</text>
<text class="fib" x="1478" y="372.3" textLength="56" lengthAdjust="spacingAndGlyphs">61.80%(2930.00)</text>
<text class="fib" x="1478" y="453.6" textLength="56" lengthAdjust="spacingAndGlyphs">50.00%(2785.75)</text>
<text class="fib" x="1478" y="533.7" textLength="56" lengthAdjust="spacingAndGlyphs">38.20%(2641.50)</text>
<line x1="1044" y1="199.2" x2="1464" y2="243.1" stroke="#8b8e9b" stroke-width="2.7" stroke-linecap="round"/>
<line x1="1144.2" y1="377.7" x2="1463" y2="298.2" stroke="#8b8e9b" stroke-width="2.6" stroke-linecap="round"/>
<polygon points="377.6,124 388,124 383,257" fill="#464957" fill-opacity="0.92"/>
<rect x="126" y="60.4" width="513" height="63.8" rx="4.5" fill="#585b66"/>
<text class="cb" x="132.1" y="77" textLength="472" lengthAdjust="spacingAndGlyphs">Low-volume areas develop when participants have directional conviction.</text>
<text class="cb" x="132.1" y="89.8" textLength="484.6" lengthAdjust="spacingAndGlyphs">Short term strategy is to fade those areas (short resistance, long support).</text>
<text class="cb" x="132.1" y="102.6" textLength="464.1" lengthAdjust="spacingAndGlyphs">When you trade into an area of low volume, then sentiment (directional</text>
<text class="cb" x="132.1" y="115.4" textLength="499.8" lengthAdjust="spacingAndGlyphs">conviction) has changed. Once prices penetrate this area, movement is swift.</text>
<polygon points="987,199 987,209.3 1087,204.5" fill="#464957" fill-opacity="0.92"/>
<rect x="522.75" y="178.7" width="465.25" height="51.1" rx="4.5" fill="#585b66"/>
<text class="cb" x="528.65" y="195.4" textLength="434.55" lengthAdjust="spacingAndGlyphs">Minimal excess at prior highs and numerous gaps below created by</text>
<text class="cb" x="528.65" y="208.2" textLength="395.45" lengthAdjust="spacingAndGlyphs">short-term, momentum-driven participants that got ahead of</text>
<text class="cb" x="528.65" y="221" textLength="390.85" lengthAdjust="spacingAndGlyphs">themselves and lacked the conviction to move prices higher.</text>
<polygon points="1265.3,136.5 1275.5,136.5 1270.4,221.5" fill="#464957" fill-opacity="0.92"/>
<rect x="1113.2" y="85.5" width="314.3" height="51.6" rx="4.5" fill="#585b66"/>
<text class="cb" x="1119.1" y="102.3" textLength="252.2" lengthAdjust="spacingAndGlyphs">Numerous responsive sessions. Market</text>
<text class="cb" x="1119.1" y="115.1" textLength="258.8" lengthAdjust="spacingAndGlyphs">digesting available information, building</text>
<text class="cb" x="1119.1" y="127.9" textLength="296.6" lengthAdjust="spacingAndGlyphs">launchpad for next move out of consolidation.</text>
<polygon points="1400.8,206 1410.9,206 1405.8,236.7" fill="#464957" fill-opacity="0.92"/>
<rect x="1283" y="181" width="246" height="25.8" rx="4.5" fill="#585b66"/>
<text class="cb" x="1288.8" y="197.5" textLength="232.8" lengthAdjust="spacingAndGlyphs">Close above prior mechanical highs.</text>
<polygon points="1134,482 1144,482 1140.3,377.5" fill="#464957" fill-opacity="0.92"/>
<rect x="849" y="481.4" width="580" height="25.7" rx="4.5" fill="#585b66"/>
<text class="cb" x="854.9" y="498" textLength="567.4" lengthAdjust="spacingAndGlyphs">5 sigma de-risking; similar single-day moves have predated periods of outperformance.</text>
<polygon points="642,624.5 642,634 191,629" fill="#464957" fill-opacity="0.92"/>
<rect x="641" y="584.6" width="513.8" height="89.6" rx="4.5" fill="#585b66"/>
<text class="cb" x="646.55" y="601.6" textLength="485.05" lengthAdjust="spacingAndGlyphs">High-volume areas develop when prices slow to satisfy two-sided trade. As</text>
<text class="cb" x="646.55" y="614.4" textLength="482.05" lengthAdjust="spacingAndGlyphs">market spends more time in these areas, volume and acceptance of prices</text>
<text class="cb" x="646.55" y="627.2" textLength="386.75" lengthAdjust="spacingAndGlyphs">occurs. As a result, high-volume areas tend to attract price.</text>
<text class="cb" x="646.55" y="652.8" textLength="496.95" lengthAdjust="spacingAndGlyphs">Note: POC (thick red line, or Point of Control) failing to migrate higher would</text>
<text class="cb" x="646.55" y="665.6" textLength="467.25" lengthAdjust="spacingAndGlyphs">not point to improving trade facilitation and acceptance of higher prices.</text>
</g>
<path d="M4.2 27.5H1595.7V890.2H4.2Z" fill="none" stroke="#b2b2b2" stroke-width="1"/>
<line x1="1539.6" y1="27.5" x2="1539.6" y2="890.2" stroke="#858585" stroke-width="1"/>
<line x1="3.7" y1="890.2" x2="1596.2" y2="890.2" stroke="#8c8c8c" stroke-width="1"/>
<line x1="4.3" y1="27.5" x2="4.3" y2="890.2" stroke="#a4a4a4" stroke-width="1"/>
<line x1="4.2" y1="867.1" x2="1595.7" y2="867.1" stroke="#d0d0d0" stroke-width="1"/>
<line x1="1540" y1="840.66" x2="1542.6" y2="840.66" stroke="#a0a0a0" stroke-width="0.9"/>
<text class="ax" x="1546.3" y="844.41" textLength="35.7" lengthAdjust="spacingAndGlyphs">2100.00</text>
<line x1="1540" y1="812.58" x2="1542.6" y2="812.58" stroke="#a0a0a0" stroke-width="0.9"/>
<text class="ax" x="1546.3" y="816.33" textLength="35.7" lengthAdjust="spacingAndGlyphs">2150.00</text>
<line x1="1540" y1="784.49" x2="1542.6" y2="784.49" stroke="#a0a0a0" stroke-width="0.9"/>
<text class="ax" x="1546.3" y="788.24" textLength="35.7" lengthAdjust="spacingAndGlyphs">2200.00</text>
<line x1="1540" y1="756.4" x2="1542.6" y2="756.4" stroke="#a0a0a0" stroke-width="0.9"/>
<text class="ax" x="1546.3" y="760.15" textLength="35.7" lengthAdjust="spacingAndGlyphs">2250.00</text>
<line x1="1540" y1="728.31" x2="1542.6" y2="728.31" stroke="#a0a0a0" stroke-width="0.9"/>
<text class="ax" x="1546.3" y="732.06" textLength="35.7" lengthAdjust="spacingAndGlyphs">2300.00</text>
<line x1="1540" y1="700.22" x2="1542.6" y2="700.22" stroke="#a0a0a0" stroke-width="0.9"/>
<text class="ax" x="1546.3" y="703.97" textLength="35.7" lengthAdjust="spacingAndGlyphs">2350.00</text>
<line x1="1540" y1="672.14" x2="1542.6" y2="672.14" stroke="#a0a0a0" stroke-width="0.9"/>
<text class="ax" x="1546.3" y="675.89" textLength="35.7" lengthAdjust="spacingAndGlyphs">2400.00</text>
<line x1="1540" y1="644.05" x2="1542.6" y2="644.05" stroke="#a0a0a0" stroke-width="0.9"/>
<text class="ax" x="1546.3" y="647.8" textLength="35.7" lengthAdjust="spacingAndGlyphs">2450.00</text>
<line x1="1540" y1="615.96" x2="1542.6" y2="615.96" stroke="#a0a0a0" stroke-width="0.9"/>
<text class="ax" x="1546.3" y="619.71" textLength="35.7" lengthAdjust="spacingAndGlyphs">2500.00</text>
<line x1="1540" y1="587.87" x2="1542.6" y2="587.87" stroke="#a0a0a0" stroke-width="0.9"/>
<text class="ax" x="1546.3" y="591.62" textLength="35.7" lengthAdjust="spacingAndGlyphs">2550.00</text>
<line x1="1540" y1="559.78" x2="1542.6" y2="559.78" stroke="#a0a0a0" stroke-width="0.9"/>
<text class="ax" x="1546.3" y="563.53" textLength="35.7" lengthAdjust="spacingAndGlyphs">2600.00</text>
<line x1="1540" y1="531.7" x2="1542.6" y2="531.7" stroke="#a0a0a0" stroke-width="0.9"/>
<text class="ax" x="1546.3" y="535.45" textLength="35.7" lengthAdjust="spacingAndGlyphs">2650.00</text>
<line x1="1540" y1="503.61" x2="1542.6" y2="503.61" stroke="#a0a0a0" stroke-width="0.9"/>
<text class="ax" x="1546.3" y="507.36" textLength="35.7" lengthAdjust="spacingAndGlyphs">2700.00</text>
<line x1="1540" y1="475.52" x2="1542.6" y2="475.52" stroke="#a0a0a0" stroke-width="0.9"/>
<text class="ax" x="1546.3" y="479.27" textLength="35.7" lengthAdjust="spacingAndGlyphs">2750.00</text>
<line x1="1540" y1="447.43" x2="1542.6" y2="447.43" stroke="#a0a0a0" stroke-width="0.9"/>
<text class="ax" x="1546.3" y="451.18" textLength="35.7" lengthAdjust="spacingAndGlyphs">2800.00</text>
<line x1="1540" y1="419.34" x2="1542.6" y2="419.34" stroke="#a0a0a0" stroke-width="0.9"/>
<text class="ax" x="1546.3" y="423.09" textLength="35.7" lengthAdjust="spacingAndGlyphs">2850.00</text>
<line x1="1540" y1="391.26" x2="1542.6" y2="391.26" stroke="#a0a0a0" stroke-width="0.9"/>
<text class="ax" x="1546.3" y="395.01" textLength="35.7" lengthAdjust="spacingAndGlyphs">2900.00</text>
<line x1="1540" y1="363.17" x2="1542.6" y2="363.17" stroke="#a0a0a0" stroke-width="0.9"/>
<text class="ax" x="1546.3" y="366.92" textLength="35.7" lengthAdjust="spacingAndGlyphs">2950.00</text>
<line x1="1540" y1="335.08" x2="1542.6" y2="335.08" stroke="#a0a0a0" stroke-width="0.9"/>
<text class="ax" x="1546.3" y="338.83" textLength="35.7" lengthAdjust="spacingAndGlyphs">3000.00</text>
<line x1="1540" y1="306.99" x2="1542.6" y2="306.99" stroke="#a0a0a0" stroke-width="0.9"/>
<text class="ax" x="1546.3" y="310.74" textLength="35.7" lengthAdjust="spacingAndGlyphs">3050.00</text>
<line x1="1540" y1="278.9" x2="1542.6" y2="278.9" stroke="#a0a0a0" stroke-width="0.9"/>
<text class="ax" x="1546.3" y="282.65" textLength="35.7" lengthAdjust="spacingAndGlyphs">3100.00</text>
<line x1="1540" y1="250.82" x2="1542.6" y2="250.82" stroke="#a0a0a0" stroke-width="0.9"/>
<text class="ax" x="1546.3" y="254.57" textLength="35.7" lengthAdjust="spacingAndGlyphs">3150.00</text>
<line x1="1540" y1="222.73" x2="1542.6" y2="222.73" stroke="#a0a0a0" stroke-width="0.9"/>
<text class="ax" x="1546.3" y="226.48" textLength="35.7" lengthAdjust="spacingAndGlyphs">3200.00</text>
<line x1="1540" y1="194.64" x2="1542.6" y2="194.64" stroke="#a0a0a0" stroke-width="0.9"/>
<text class="ax" x="1546.3" y="198.39" textLength="35.7" lengthAdjust="spacingAndGlyphs">3250.00</text>
<line x1="1540" y1="166.55" x2="1542.6" y2="166.55" stroke="#a0a0a0" stroke-width="0.9"/>
<text class="ax" x="1546.3" y="170.3" textLength="35.7" lengthAdjust="spacingAndGlyphs">3300.00</text>
<line x1="1540" y1="138.46" x2="1542.6" y2="138.46" stroke="#a0a0a0" stroke-width="0.9"/>
<text class="ax" x="1546.3" y="142.21" textLength="35.7" lengthAdjust="spacingAndGlyphs">3350.00</text>
<line x1="1540" y1="110.38" x2="1542.6" y2="110.38" stroke="#a0a0a0" stroke-width="0.9"/>
<text class="ax" x="1546.3" y="114.13" textLength="35.7" lengthAdjust="spacingAndGlyphs">3400.00</text>
<line x1="1540" y1="82.29" x2="1542.6" y2="82.29" stroke="#a0a0a0" stroke-width="0.9"/>
<text class="ax" x="1546.3" y="86.04" textLength="35.7" lengthAdjust="spacingAndGlyphs">3450.00</text>
<line x1="1540" y1="54.2" x2="1542.6" y2="54.2" stroke="#a0a0a0" stroke-width="0.9"/>
<text class="ax" x="1546.3" y="57.95" textLength="35.7" lengthAdjust="spacingAndGlyphs">3500.00</text>
<rect x="1540" y="248" width="49.3" height="15.9" fill="#10db91"/>
<text class="ax" x="1546.3" y="260.3" textLength="35.7" lengthAdjust="spacingAndGlyphs">3142.75</text>
<rect x="1540" y="243.1" width="49.3" height="15.3" fill="#10db91"/>
<line x1="1540" y1="250.9" x2="1543" y2="250.9" stroke="#000" stroke-width="1"/>
<text class="ax" x="1546.3" y="254.4" textLength="35.7" lengthAdjust="spacingAndGlyphs" style="fill:#000">3150.25</text>
<rect x="1540" y="227.4" width="49.3" height="15.7" fill="#000"/>
<line x1="1540" y1="235.3" x2="1543" y2="235.3" stroke="#fff" stroke-width="1"/>
<text class="ax" x="1546.3" y="238.8" textLength="35.7" lengthAdjust="spacingAndGlyphs" style="fill:#fff">3179.50</text>
<rect x="1540" y="348" width="49.3" height="15.3" fill="#10db91"/>
<line x1="1540" y1="355.7" x2="1543" y2="355.7" stroke="#000" stroke-width="1"/>
<text class="ax" x="1546.3" y="359.2" textLength="35.7" lengthAdjust="spacingAndGlyphs" style="fill:#000">2964.50</text>
<rect x="1539.6" y="826.9" width="55.4" height="15.2" fill="#008000"/>
<line x1="1540" y1="834.4" x2="1543" y2="834.4" stroke="#fff" stroke-width="1"/>
<text class="ax" x="1546.5" y="838" textLength="41.8" lengthAdjust="spacingAndGlyphs" style="fill:#fff">302.804K</text>
<line x1="10" y1="867" x2="10" y2="869.3" stroke="#999" stroke-width="0.9"/>
<text class="ax" x="4.7" y="882.6">17</text>
<line x1="138.5" y1="867" x2="138.5" y2="869.3" stroke="#999" stroke-width="0.9"/>
<text class="ax" x="138.5" y="882.6" text-anchor="middle" font-weight="bold" font-size="9.6" style="font-size:9.6px">Mar</text>
<line x1="211" y1="867" x2="211" y2="869.3" stroke="#999" stroke-width="0.9"/>
<text class="ax" x="211" y="882.6" text-anchor="middle">9</text>
<line x1="278.5" y1="867" x2="278.5" y2="869.3" stroke="#999" stroke-width="0.9"/>
<text class="ax" x="278.5" y="882.6" text-anchor="middle">16</text>
<line x1="346" y1="867" x2="346" y2="869.3" stroke="#999" stroke-width="0.9"/>
<text class="ax" x="346" y="882.6" text-anchor="middle">23</text>
<line x1="441" y1="867" x2="441" y2="869.3" stroke="#999" stroke-width="0.9"/>
<text class="ax" x="441" y="882.6" text-anchor="middle" font-weight="bold" font-size="9.6" style="font-size:9.6px">Apr</text>
<line x1="536" y1="867" x2="536" y2="869.3" stroke="#999" stroke-width="0.9"/>
<text class="ax" x="536" y="882.6" text-anchor="middle">13</text>
<line x1="604" y1="867" x2="604" y2="869.3" stroke="#999" stroke-width="0.9"/>
<text class="ax" x="604" y="882.6" text-anchor="middle">20</text>
<line x1="725.5" y1="867" x2="725.5" y2="869.3" stroke="#999" stroke-width="0.9"/>
<text class="ax" x="725.5" y="882.6" text-anchor="middle" font-weight="bold" font-size="9.6" style="font-size:9.6px">May</text>
<line x1="807" y1="867" x2="807" y2="869.3" stroke="#999" stroke-width="0.9"/>
<text class="ax" x="807" y="882.6" text-anchor="middle">11</text>
<line x1="875" y1="867" x2="875" y2="869.3" stroke="#999" stroke-width="0.9"/>
<text class="ax" x="875" y="882.6" text-anchor="middle">18</text>
<line x1="942.5" y1="867" x2="942.5" y2="869.3" stroke="#999" stroke-width="0.9"/>
<text class="ax" x="942.5" y="882.6" text-anchor="middle">25</text>
<line x1="1008" y1="867" x2="1008" y2="869.3" stroke="#999" stroke-width="0.9"/>
<text class="ax" x="1008" y="882.6" text-anchor="middle" font-weight="bold" font-size="9.6" style="font-size:9.6px">Jun</text>
<line x1="1075.5" y1="867" x2="1075.5" y2="869.3" stroke="#999" stroke-width="0.9"/>
<text class="ax" x="1075.5" y="882.6" text-anchor="middle">8</text>
<line x1="1143" y1="867" x2="1143" y2="869.3" stroke="#999" stroke-width="0.9"/>
<text class="ax" x="1143" y="882.6" text-anchor="middle">15</text>
<line x1="1211" y1="867" x2="1211" y2="869.3" stroke="#999" stroke-width="0.9"/>
<text class="ax" x="1211" y="882.6" text-anchor="middle">22</text>
<line x1="1306.5" y1="867" x2="1306.5" y2="869.3" stroke="#999" stroke-width="0.9"/>
<text class="ax" x="1306.5" y="882.6" text-anchor="middle" font-weight="bold" font-size="9.6" style="font-size:9.6px">Jul</text>
<line x1="1412" y1="867" x2="1412" y2="869.3" stroke="#999" stroke-width="0.9"/>
<text class="ax" x="1412" y="882.6" text-anchor="middle">13</text>
<line x1="1480" y1="867" x2="1480" y2="869.3" stroke="#999" stroke-width="0.9"/>
<text class="ax" x="1480" y="882.6" text-anchor="middle">20</text>
<g fill="#2196f3"><circle cx="6.7" cy="904.1" r="2.8"/><circle cx="10.9" cy="901.6" r="4.3"/><circle cx="16.3" cy="903.3" r="3.85"/><rect x="6.7" y="903" width="9.6" height="3.95"/></g>
<polyline points="5,904.6 10.25,900.6 13.75,904.8 18.1,900.8" fill="none" stroke="#fff" stroke-width="0.65" stroke-linejoin="round" stroke-linecap="round"/>
<circle cx="10.25" cy="900.6" r="0.7" fill="#fff"/><circle cx="13.75" cy="904.8" r="0.7" fill="#fff"/>
<text x="21.5" y="904.8" textLength="45.6" lengthAdjust="spacingAndGlyphs" style="font-family:'Liberation Sans',sans-serif;font-size:8.2px;fill:#444">TradingView</text>
</svg></body></html>
